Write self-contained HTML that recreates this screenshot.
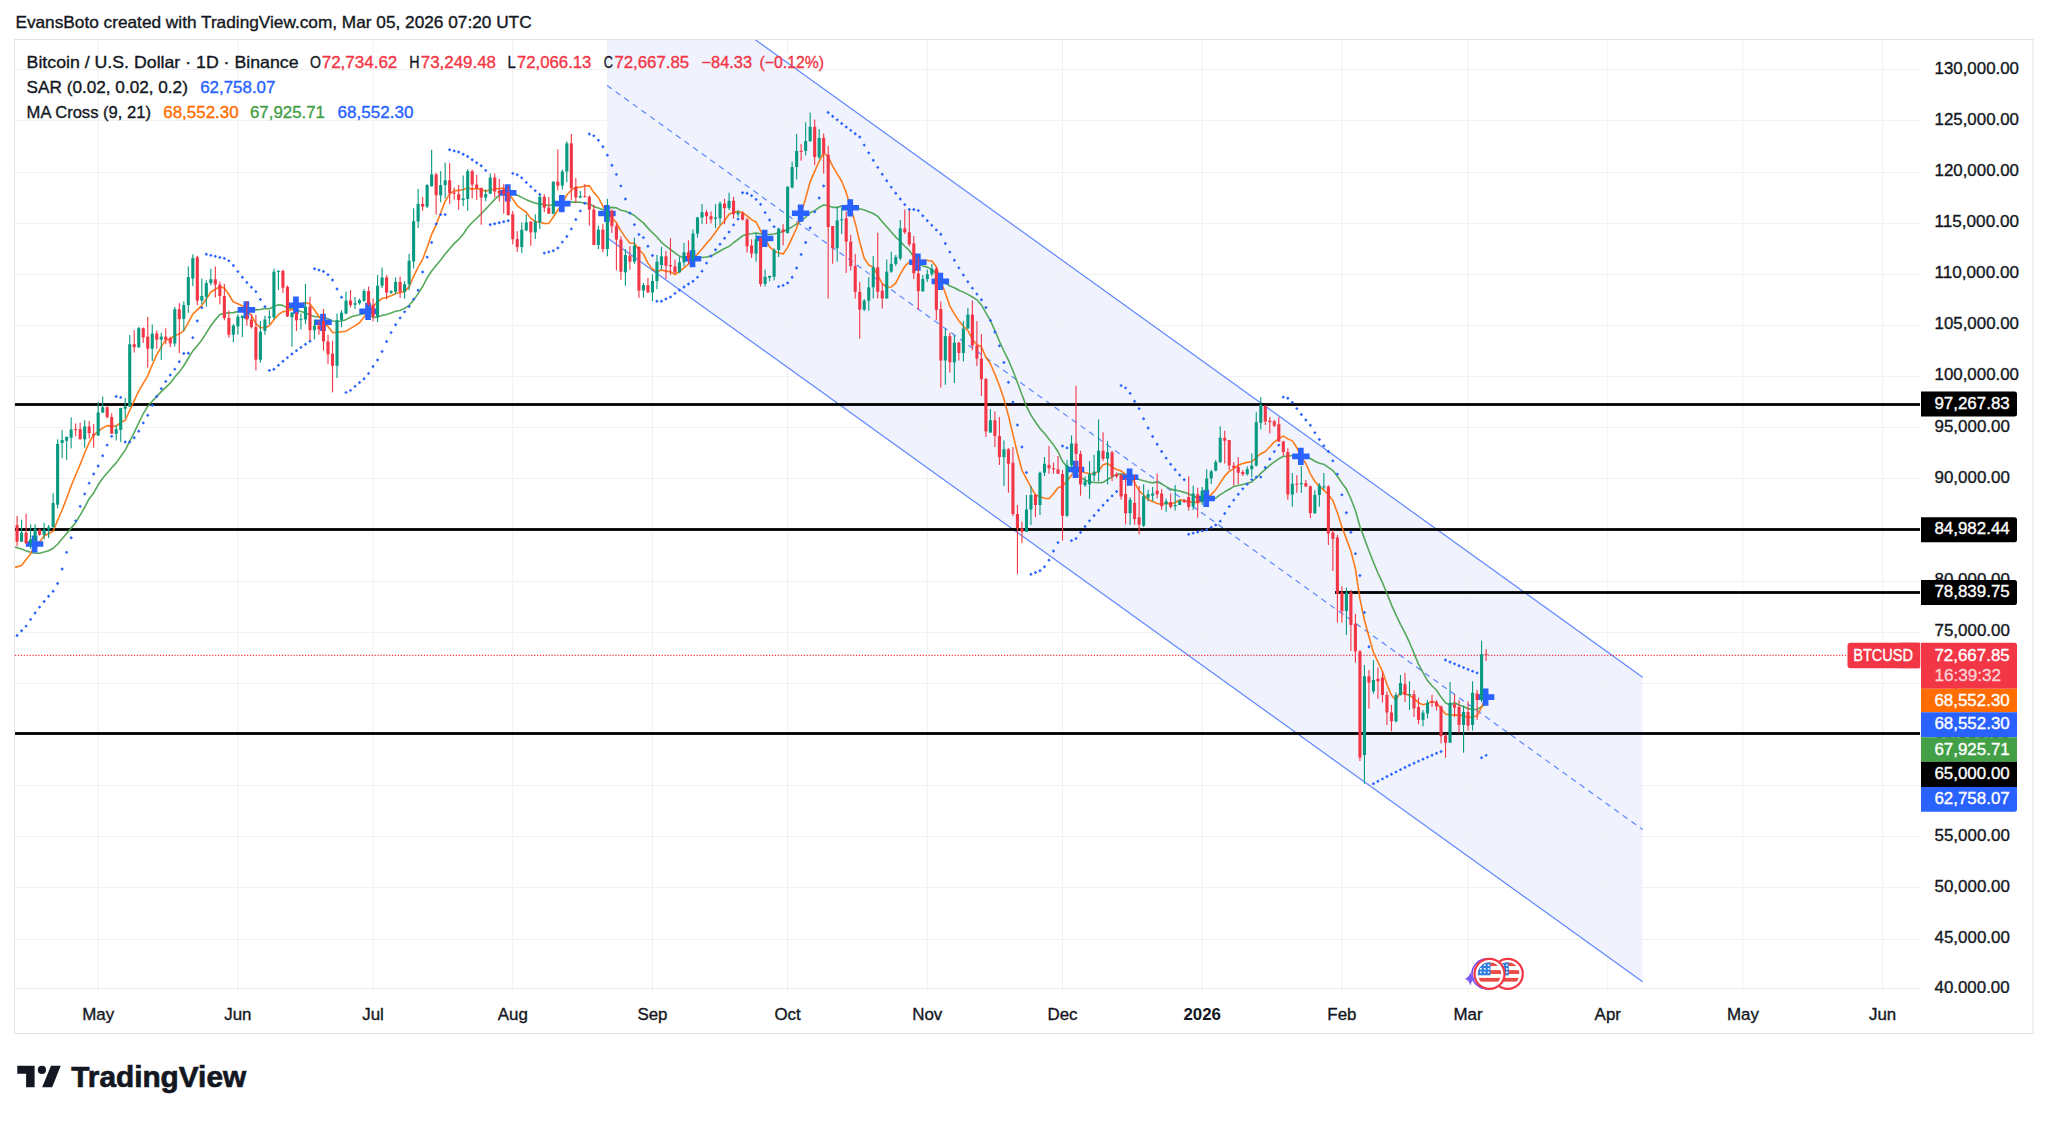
<!DOCTYPE html>
<html><head><meta charset="utf-8"><title>BTCUSD chart</title>
<style>html,body{margin:0;padding:0;background:#fff;width:2048px;height:1121px;overflow:hidden}svg{display:block}</style>
</head><body>
<svg width="2048" height="1121" viewBox="0 0 2048 1121" font-family='"Liberation Sans", sans-serif'>
<rect width="2048" height="1121" fill="#ffffff"/>
<defs><clipPath id="pane"><rect x="15" y="40" width="1905" height="948"/></clipPath></defs>
<text x="15.4" y="27.8" fill="#131722" font-size="16.5" font-weight="normal" textLength="516.2" lengthAdjust="spacingAndGlyphs" stroke="#131722" stroke-width="0.35">EvansBoto created with TradingView.com, Mar 05, 2026 07:20 UTC</text>
<rect x="14.5" y="39.5" width="2018.5" height="994" fill="none" stroke="#e3e3e3" stroke-width="1"/>
<line x1="15" y1="988.5" x2="1920" y2="988.5" stroke="#ececec" stroke-width="1"/>
<g clip-path="url(#pane)">
<polygon points="607,40 755.65,40 1642.6,677.27 1642.6,981.77 607,237.69" fill="#f0f3fe"/>
<line x1="98.18" y1="40" x2="98.18" y2="988" stroke="#f1f1f1" stroke-width="1"/>
<line x1="237.87" y1="40" x2="237.87" y2="988" stroke="#f1f1f1" stroke-width="1"/>
<line x1="373.06" y1="40" x2="373.06" y2="988" stroke="#f1f1f1" stroke-width="1"/>
<line x1="512.75" y1="40" x2="512.75" y2="988" stroke="#f1f1f1" stroke-width="1"/>
<line x1="652.44" y1="40" x2="652.44" y2="988" stroke="#f1f1f1" stroke-width="1"/>
<line x1="787.63" y1="40" x2="787.63" y2="988" stroke="#f1f1f1" stroke-width="1"/>
<line x1="927.32" y1="40" x2="927.32" y2="988" stroke="#f1f1f1" stroke-width="1"/>
<line x1="1062.51" y1="40" x2="1062.51" y2="988" stroke="#f1f1f1" stroke-width="1"/>
<line x1="1202.2" y1="40" x2="1202.2" y2="988" stroke="#f1f1f1" stroke-width="1"/>
<line x1="1341.89" y1="40" x2="1341.89" y2="988" stroke="#f1f1f1" stroke-width="1"/>
<line x1="1468.06" y1="40" x2="1468.06" y2="988" stroke="#f1f1f1" stroke-width="1"/>
<line x1="1607.76" y1="40" x2="1607.76" y2="988" stroke="#f1f1f1" stroke-width="1"/>
<line x1="1742.94" y1="40" x2="1742.94" y2="988" stroke="#f1f1f1" stroke-width="1"/>
<line x1="1882.64" y1="40" x2="1882.64" y2="988" stroke="#f1f1f1" stroke-width="1"/>
<line x1="15" y1="990.5" x2="1920" y2="990.5" stroke="#f1f1f1" stroke-width="1"/>
<line x1="15" y1="939.5" x2="1920" y2="939.5" stroke="#f1f1f1" stroke-width="1"/>
<line x1="15" y1="887.5" x2="1920" y2="887.5" stroke="#f1f1f1" stroke-width="1"/>
<line x1="15" y1="836.5" x2="1920" y2="836.5" stroke="#f1f1f1" stroke-width="1"/>
<line x1="15" y1="785.5" x2="1920" y2="785.5" stroke="#f1f1f1" stroke-width="1"/>
<line x1="15" y1="734.5" x2="1920" y2="734.5" stroke="#f1f1f1" stroke-width="1"/>
<line x1="15" y1="683.5" x2="1920" y2="683.5" stroke="#f1f1f1" stroke-width="1"/>
<line x1="15" y1="632.5" x2="1920" y2="632.5" stroke="#f1f1f1" stroke-width="1"/>
<line x1="15" y1="581.5" x2="1920" y2="581.5" stroke="#f1f1f1" stroke-width="1"/>
<line x1="15" y1="529.5" x2="1920" y2="529.5" stroke="#f1f1f1" stroke-width="1"/>
<line x1="15" y1="478.5" x2="1920" y2="478.5" stroke="#f1f1f1" stroke-width="1"/>
<line x1="15" y1="427.5" x2="1920" y2="427.5" stroke="#f1f1f1" stroke-width="1"/>
<line x1="15" y1="376.5" x2="1920" y2="376.5" stroke="#f1f1f1" stroke-width="1"/>
<line x1="15" y1="325.5" x2="1920" y2="325.5" stroke="#f1f1f1" stroke-width="1"/>
<line x1="15" y1="274.5" x2="1920" y2="274.5" stroke="#f1f1f1" stroke-width="1"/>
<line x1="15" y1="223.5" x2="1920" y2="223.5" stroke="#f1f1f1" stroke-width="1"/>
<line x1="15" y1="172.5" x2="1920" y2="172.5" stroke="#f1f1f1" stroke-width="1"/>
<line x1="15" y1="120.5" x2="1920" y2="120.5" stroke="#f1f1f1" stroke-width="1"/>
<line x1="15" y1="69.5" x2="1920" y2="69.5" stroke="#f1f1f1" stroke-width="1"/>
<line x1="607" y1="-66.81" x2="1642.6" y2="677.27" stroke="#2962ff" stroke-width="1.2" stroke-opacity="0.75"/>
<line x1="607" y1="237.69" x2="1642.6" y2="981.77" stroke="#2962ff" stroke-width="1.2" stroke-opacity="0.75"/>
<line x1="607" y1="85.44" x2="1642.6" y2="829.52" stroke="#2962ff" stroke-width="1.2" stroke-opacity="0.75" stroke-dasharray="5.8 4.8"/>
<rect x="15" y="403.1" width="1905" height="2.8" fill="#000"/>
<rect x="15" y="528.1" width="1905" height="2.8" fill="#000"/>
<rect x="1335" y="591.1" width="585" height="2.8" fill="#000"/>
<rect x="15" y="732.1" width="1905" height="2.8" fill="#000"/>
<line x1="15" y1="655.4" x2="1847" y2="655.4" stroke="#f23645" stroke-width="1.2" stroke-dasharray="1.2 1.7"/>
<polyline points="8.06,547.29 12.56,546.57 17.07,547.69 21.57,549.05 26.08,550.88 30.59,552.28 35.09,553.32 39.6,553.26 44.11,552.1 48.61,550.73 53.12,548.27 57.62,544.27 62.13,538.79 66.64,533.46 71.14,528.14 75.65,522.69 80.16,515.18 84.66,507.45 89.17,498.63 93.67,492.98 98.18,484.78 102.69,478.18 107.19,472.96 111.7,467.82 116.2,462.9 120.71,456.45 125.22,450.12 129.72,441.33 134.23,432.39 138.74,422.8 143.24,413.76 147.75,406.41 152.25,401.16 156.76,396.38 161.27,391.6 165.77,387.31 170.28,383.18 174.79,376.99 179.29,371.88 183.8,365.78 188.3,358.23 192.81,350.88 197.32,345.8 201.82,340.04 206.33,332.87 210.84,325.73 215.34,319.86 219.85,314.6 224.35,313.36 228.86,312.76 233.37,312.64 237.87,311.64 242.38,310.07 246.88,309.4 251.39,308.8 255.9,309.9 260.4,309.53 264.91,308.39 269.42,308.73 273.92,306.48 278.43,304.85 282.93,305.36 287.44,308.14 291.95,308.71 296.45,309.87 300.96,311.57 305.47,312.87 309.97,315.04 314.48,316.45 318.98,317 323.49,317.32 328,318.69 332.5,321.04 337.01,321.26 341.51,320.93 346.02,319.67 350.53,317.07 355.03,315.71 359.54,314.8 364.05,313.58 368.55,315.15 373.06,317.34 377.56,317.24 382.07,315.38 386.58,314.42 391.08,313.03 395.59,311.28 400.1,310.57 404.6,308.38 409.11,305.29 413.61,300.14 418.12,293.59 422.63,286.55 427.13,277.94 431.64,271 436.14,265.4 440.65,259.9 445.16,253.96 449.66,248.72 454.17,243.65 458.68,239.32 463.18,234.27 467.69,227.33 472.19,222.52 476.7,218.28 481.21,213.75 485.71,209.14 490.22,204.17 494.73,199.4 499.23,195.09 503.74,191.92 508.24,191.63 512.75,193.3 517.26,195.23 521.76,197.36 526.27,199.64 530.78,201.41 535.28,203.15 539.79,203.94 544.29,204.63 548.8,205.58 553.31,204.7 557.81,204.09 562.32,204.1 566.82,202.14 571.33,202.13 575.84,202.13 580.34,202.22 584.85,203.13 589.36,203.99 593.86,206.43 598.37,208.11 602.87,209.73 607.38,208.39 611.89,207.39 616.39,207.86 620.9,210.21 625.41,211.29 629.91,213.19 634.42,215.51 638.92,219.46 643.43,222.86 647.94,228.14 652.44,232.69 656.95,236.98 661.45,242.36 665.96,246.05 670.47,249.32 674.97,252.96 679.48,256.08 683.99,258.11 688.49,258.78 693,258.97 697.5,257.47 702.01,257.54 706.52,257.06 711.02,256.1 715.53,253.52 720.04,251.07 724.54,248.52 729.05,246.39 733.55,242.75 738.06,239.3 742.57,235.82 747.07,234.17 751.58,233.79 756.09,232.98 760.59,233.84 765.1,234.34 769.6,234.51 774.11,233.92 778.62,232.8 783.12,231.51 787.63,229.28 792.13,226.87 796.64,223.95 801.15,220.89 805.65,217.15 810.16,212.83 814.67,210.62 819.17,207.28 823.68,205.03 828.18,205.64 832.69,207.35 837.2,207.39 841.7,206.1 846.21,205.52 850.72,206.8 855.22,207.18 859.73,208.74 864.23,209.92 868.74,211.7 873.25,213.54 877.75,216.38 882.26,221.71 886.76,226.7 891.27,232.08 895.78,237.1 900.28,241.25 904.79,246.27 909.3,250.42 913.8,256.88 918.31,263.43 922.81,265.9 927.32,267.14 931.83,269.44 936.33,273.76 940.84,279.42 945.35,282.75 949.85,286.11 954.36,287.69 958.86,290.18 963.37,292.14 967.88,294.4 972.38,296.95 976.89,299.81 981.4,304.93 985.9,312.91 990.41,320.68 994.91,330.56 999.42,341.27 1003.93,351.03 1008.43,360.1 1012.94,370.7 1017.44,382.58 1021.95,394.84 1026.46,406.31 1030.96,415.12 1035.47,422 1039.98,428.51 1044.48,433.34 1048.99,439.32 1053.49,444.86 1058,451.77 1062.51,461.35 1067.01,467.04 1071.52,471.09 1076.03,474.64 1080.53,477.17 1085.04,480.07 1089.54,481.88 1094.05,482.57 1098.56,482.64 1103.06,482.4 1107.57,479.46 1112.08,476.98 1116.58,474.34 1121.09,473.72 1125.59,474.6 1130.1,474.34 1134.61,476.55 1139.11,479.44 1143.62,480.78 1148.12,481.97 1152.63,482.9 1157.14,481.88 1161.64,483.84 1166.15,486.6 1170.66,489.12 1175.16,490.1 1179.67,491.03 1184.17,492.36 1188.68,494.05 1193.19,496.09 1197.69,498.18 1202.2,500 1206.71,500.1 1211.21,499.87 1215.72,498.23 1220.22,494.63 1224.73,491.82 1229.24,489.28 1233.74,486.58 1238.25,485.46 1242.75,484.5 1247.26,483.35 1251.77,481.99 1256.27,477.98 1260.78,473.39 1265.29,469.31 1269.79,465.37 1274.3,461.8 1278.8,458.91 1283.31,456.3 1287.82,456.34 1292.32,455.44 1296.83,455.13 1301.34,455.35 1305.84,456.06 1310.35,458.49 1314.85,461.21 1319.36,463.33 1323.87,464.32 1328.37,467.45 1332.88,470.6 1337.38,476.29 1341.89,483.06 1346.4,489.1 1350.9,498.76 1355.41,510.49 1359.92,526.5 1364.42,538.6 1368.93,550.83 1373.43,562.19 1377.94,573.11 1382.45,582.66 1386.95,593.55 1391.46,604.84 1395.97,614.94 1400.47,624.3 1404.98,632.96 1409.48,642.45 1413.99,653.07 1418.5,664.19 1423,672.72 1427.51,680.53 1432.02,685.71 1436.52,690.24 1441.03,697.09 1445.53,702.69 1450.04,705.14 1454.55,702.77 1459.05,705.08 1463.56,706.49 1468.06,708.66 1472.57,709.2 1477.08,709.44 1481.58,706.67 1486.09,703.5" fill="none" stroke="#43a047" stroke-width="1.6" stroke-linejoin="round" stroke-opacity="0.9"/>
<polyline points="-9.97,557.14 -5.46,564.07 -0.96,564.01 3.55,570.32 8.06,569.29 12.56,566.81 17.07,566.86 21.57,565.51 26.08,559.54 30.59,554.05 35.09,544.09 39.6,541.97 44.11,535.85 48.61,533.79 53.12,531.17 57.62,520.31 62.13,510.02 66.64,498.21 71.14,486 75.65,475.04 80.16,464.42 84.66,452.96 89.17,442.5 93.67,435 98.18,431.51 102.69,427.87 107.19,425.64 111.7,426.11 116.2,426 120.71,422.51 125.22,420.29 129.72,410.4 134.23,400.59 138.74,391.22 143.24,383.47 147.75,375.88 152.25,364.76 156.76,354.8 161.27,346.88 165.77,339.46 170.28,339.37 174.79,335.16 179.29,334.14 183.8,330.56 188.3,322.59 192.81,314.2 197.32,309.87 201.82,305.36 206.33,299.08 210.84,291.96 215.34,289.21 219.85,286.64 224.35,288.08 228.86,294.49 233.37,301.99 237.87,303.76 242.38,305.94 246.88,309.99 251.39,315.3 255.9,323.64 260.4,327.61 264.91,327.78 269.42,325.76 273.92,319.77 278.43,314.7 282.93,311.59 287.44,311.26 291.95,309.66 296.45,305.28 300.96,303.84 305.47,302.41 309.97,303.93 314.48,309.92 318.98,316.42 323.49,322.4 328,326.61 332.5,332.51 337.01,332.51 341.51,331.83 346.02,331.17 350.53,328.38 355.03,325.89 359.54,322.64 364.05,317.03 368.55,311.51 373.06,306.07 377.56,302.22 382.07,298.3 386.58,297.41 391.08,295.86 395.59,293.49 400.1,292.56 404.6,291.8 409.11,286.91 413.61,276.29 418.12,267.2 422.63,259.33 427.13,247.39 431.64,234.42 436.14,224.8 440.65,212.94 445.16,201.4 449.66,193.9 454.17,190.84 458.68,190.42 463.18,189.52 467.69,187.98 472.19,189.11 476.7,188.34 481.21,189.72 485.71,191.27 490.22,189.53 494.73,189.3 499.23,188.58 503.74,188.11 508.24,192.98 512.75,199.03 517.26,205.56 521.76,209.13 526.27,212.27 530.78,218.36 535.28,221.7 539.79,222.07 544.29,223.54 548.8,223.4 553.31,217.01 557.81,210.18 562.32,203.71 566.82,194.93 571.33,190.02 575.84,187.33 580.34,187.24 584.85,186.04 589.36,185.58 593.86,192.62 598.37,197.51 602.87,206.12 607.38,213.61 611.89,217.83 616.39,222.51 620.9,230.91 625.41,237.38 629.91,243.18 634.42,243.24 638.92,250.01 643.43,254.02 647.94,263.1 652.44,269.2 656.95,271.66 661.45,269.94 665.96,271.13 670.47,271.64 674.97,274.62 679.48,271.49 683.99,267.84 688.49,264.12 693,258.84 697.5,253.93 702.01,249.03 706.52,243.53 711.02,238.33 715.53,232.23 720.04,225.7 724.54,220.79 729.05,214.32 733.55,212.17 738.06,211.61 742.57,212.43 747.07,215.79 751.58,219.58 756.09,222 760.59,230.93 765.1,238.57 769.6,246.91 774.11,250.89 778.62,252.68 783.12,254.07 787.63,247.42 792.13,237.8 796.64,227.98 801.15,213.3 805.65,198.22 810.16,181.66 814.67,171.33 819.17,161.26 823.68,152.52 828.18,157.02 832.69,166.06 837.2,173.78 841.7,181.28 846.21,192.44 850.72,207.92 855.22,222.89 859.73,241.97 864.23,258.32 868.74,265.01 873.25,267.12 877.75,275.06 882.26,283.86 886.76,287.2 891.27,286.96 895.78,283.11 900.28,274.09 904.79,266.48 909.3,261.7 913.8,262.38 918.31,262.31 922.81,260.14 927.32,260.43 931.83,260.97 936.33,266.82 940.84,281.5 945.35,293.04 949.85,306.16 954.36,313.86 958.86,320.72 963.37,326.23 967.88,330.71 972.38,339.24 976.89,344.66 981.4,346.73 985.9,357.32 990.41,363.77 994.91,374.12 999.42,385.69 1003.93,399.1 1008.43,415.68 1012.94,434.4 1017.44,453.27 1021.95,470.22 1026.46,478.9 1030.96,487.2 1035.47,494.88 1039.98,496.61 1044.48,498.22 1048.99,498.71 1053.49,493.74 1058,487.68 1062.51,485.89 1067.01,480.96 1071.52,475.23 1076.03,469.56 1080.53,470.86 1085.04,472.79 1089.54,473.43 1094.05,473.69 1098.56,471.12 1103.06,464.79 1107.57,463.37 1112.08,467.02 1116.58,469.52 1121.09,470.87 1125.59,474.43 1130.1,477.29 1134.61,482.56 1139.11,490.77 1143.62,494.94 1148.12,499.6 1152.63,501.5 1157.14,503.48 1161.64,504.57 1166.15,503.23 1170.66,504.04 1175.16,502.49 1179.67,499.82 1184.17,500.46 1188.68,501.88 1193.19,501.88 1197.69,502.82 1202.2,501.08 1206.71,498.54 1211.21,494.59 1215.72,489.82 1220.22,482.84 1224.73,476.03 1229.24,471.43 1233.74,468.58 1238.25,465.26 1242.75,463.43 1247.26,462.4 1251.77,461.76 1256.27,457.31 1260.78,453.67 1265.29,451.52 1269.79,446.69 1274.3,442.01 1278.8,438.52 1283.31,436.06 1287.82,438.87 1292.32,440.88 1296.83,447.78 1301.34,456.44 1305.84,463.67 1310.35,473.78 1314.85,481.47 1319.36,486.34 1323.87,490.17 1328.37,494.5 1332.88,500.62 1337.38,512.8 1341.89,527.06 1346.4,538.84 1350.9,551.28 1355.41,568.66 1359.92,598.9 1364.42,620 1368.93,636.56 1373.43,652.24 1377.94,661.97 1382.45,671.27 1386.95,684.6 1391.46,695.3 1395.97,700.16 1400.47,691.88 1404.98,693.94 1409.48,695.24 1413.99,698.4 1418.5,702.69 1423,704.66 1427.51,703.57 1432.02,701.5 1436.52,702.76 1441.03,708.68 1445.53,713.99 1450.04,714.93 1454.55,714.86 1459.05,715.41 1463.56,715.33 1468.06,717.88 1472.57,716.78 1477.08,716.08 1481.58,706.96 1486.09,697.19" fill="none" stroke="#ff6d00" stroke-width="1.6" stroke-linejoin="round" stroke-opacity="0.9"/>
<path d="M31.74 535.39h5.7v5.8h5.9v5.6h-5.9v5.8h-5.7v-5.8h-5.9v-5.6h5.9z" fill="#2962ff"/>
<path d="M243.53 301.29h5.7v5.8h5.9v5.6h-5.9v5.8h-5.7v-5.8h-5.9v-5.6h5.9z" fill="#2962ff"/>
<path d="M293.1 296.58h5.7v5.8h5.9v5.6h-5.9v5.8h-5.7v-5.8h-5.9v-5.6h5.9z" fill="#2962ff"/>
<path d="M320.14 313.7h5.7v5.8h5.9v5.6h-5.9v5.8h-5.7v-5.8h-5.9v-5.6h5.9z" fill="#2962ff"/>
<path d="M365.2 302.81h5.7v5.8h5.9v5.6h-5.9v5.8h-5.7v-5.8h-5.9v-5.6h5.9z" fill="#2962ff"/>
<path d="M504.89 184.28h5.7v5.8h5.9v5.6h-5.9v5.8h-5.7v-5.8h-5.9v-5.6h5.9z" fill="#2962ff"/>
<path d="M558.97 195.01h5.7v5.8h5.9v5.6h-5.9v5.8h-5.7v-5.8h-5.9v-5.6h5.9z" fill="#2962ff"/>
<path d="M604.03 204.91h5.7v5.8h5.9v5.6h-5.9v5.8h-5.7v-5.8h-5.9v-5.6h5.9z" fill="#2962ff"/>
<path d="M689.65 250.14h5.7v5.8h5.9v5.6h-5.9v5.8h-5.7v-5.8h-5.9v-5.6h5.9z" fill="#2962ff"/>
<path d="M761.75 229.87h5.7v5.8h5.9v5.6h-5.9v5.8h-5.7v-5.8h-5.9v-5.6h5.9z" fill="#2962ff"/>
<path d="M797.8 204.6h5.7v5.8h5.9v5.6h-5.9v5.8h-5.7v-5.8h-5.9v-5.6h5.9z" fill="#2962ff"/>
<path d="M847.37 199.22h5.7v5.8h5.9v5.6h-5.9v5.8h-5.7v-5.8h-5.9v-5.6h5.9z" fill="#2962ff"/>
<path d="M914.96 253.61h5.7v5.8h5.9v5.6h-5.9v5.8h-5.7v-5.8h-5.9v-5.6h5.9z" fill="#2962ff"/>
<path d="M937.49 272.8h5.7v5.8h5.9v5.6h-5.9v5.8h-5.7v-5.8h-5.9v-5.6h5.9z" fill="#2962ff"/>
<path d="M1072.68 460.86h5.7v5.8h5.9v5.6h-5.9v5.8h-5.7v-5.8h-5.9v-5.6h5.9z" fill="#2962ff"/>
<path d="M1126.75 468.59h5.7v5.8h5.9v5.6h-5.9v5.8h-5.7v-5.8h-5.9v-5.6h5.9z" fill="#2962ff"/>
<path d="M1203.36 489.84h5.7v5.8h5.9v5.6h-5.9v5.8h-5.7v-5.8h-5.9v-5.6h5.9z" fill="#2962ff"/>
<path d="M1297.99 447.74h5.7v5.8h5.9v5.6h-5.9v5.8h-5.7v-5.8h-5.9v-5.6h5.9z" fill="#2962ff"/>
<path d="M1482.74 688.49h5.7v5.8h5.9v5.6h-5.9v5.8h-5.7v-5.8h-5.9v-5.6h5.9z" fill="#2962ff"/>
<path d="M8.06 529.45l1.7 1.7l-1.7 1.7l-1.7 -1.7z" fill="#2962ff"/>
<path d="M12.56 636.17l1.7 1.7l-1.7 1.7l-1.7 -1.7z" fill="#2962ff"/>
<path d="M17.07 633.82l1.7 1.7l-1.7 1.7l-1.7 -1.7z" fill="#2962ff"/>
<path d="M21.57 629.04l1.7 1.7l-1.7 1.7l-1.7 -1.7z" fill="#2962ff"/>
<path d="M26.08 624.45l1.7 1.7l-1.7 1.7l-1.7 -1.7z" fill="#2962ff"/>
<path d="M30.59 617.7l1.7 1.7l-1.7 1.7l-1.7 -1.7z" fill="#2962ff"/>
<path d="M35.09 611.36l1.7 1.7l-1.7 1.7l-1.7 -1.7z" fill="#2962ff"/>
<path d="M39.6 605.4l1.7 1.7l-1.7 1.7l-1.7 -1.7z" fill="#2962ff"/>
<path d="M44.11 599.8l1.7 1.7l-1.7 1.7l-1.7 -1.7z" fill="#2962ff"/>
<path d="M48.61 594.53l1.7 1.7l-1.7 1.7l-1.7 -1.7z" fill="#2962ff"/>
<path d="M53.12 589.58l1.7 1.7l-1.7 1.7l-1.7 -1.7z" fill="#2962ff"/>
<path d="M57.62 581.73l1.7 1.7l-1.7 1.7l-1.7 -1.7z" fill="#2962ff"/>
<path d="M62.13 567.32l1.7 1.7l-1.7 1.7l-1.7 -1.7z" fill="#2962ff"/>
<path d="M66.64 550.66l1.7 1.7l-1.7 1.7l-1.7 -1.7z" fill="#2962ff"/>
<path d="M71.14 536l1.7 1.7l-1.7 1.7l-1.7 -1.7z" fill="#2962ff"/>
<path d="M75.65 519.14l1.7 1.7l-1.7 1.7l-1.7 -1.7z" fill="#2962ff"/>
<path d="M80.16 504.65l1.7 1.7l-1.7 1.7l-1.7 -1.7z" fill="#2962ff"/>
<path d="M84.66 492.18l1.7 1.7l-1.7 1.7l-1.7 -1.7z" fill="#2962ff"/>
<path d="M89.17 481.46l1.7 1.7l-1.7 1.7l-1.7 -1.7z" fill="#2962ff"/>
<path d="M93.67 472.24l1.7 1.7l-1.7 1.7l-1.7 -1.7z" fill="#2962ff"/>
<path d="M98.18 464.31l1.7 1.7l-1.7 1.7l-1.7 -1.7z" fill="#2962ff"/>
<path d="M102.69 454.08l1.7 1.7l-1.7 1.7l-1.7 -1.7z" fill="#2962ff"/>
<path d="M107.19 443.41l1.7 1.7l-1.7 1.7l-1.7 -1.7z" fill="#2962ff"/>
<path d="M111.7 434.66l1.7 1.7l-1.7 1.7l-1.7 -1.7z" fill="#2962ff"/>
<path d="M116.2 394.8l1.7 1.7l-1.7 1.7l-1.7 -1.7z" fill="#2962ff"/>
<path d="M120.71 395.68l1.7 1.7l-1.7 1.7l-1.7 -1.7z" fill="#2962ff"/>
<path d="M125.22 440.3l1.7 1.7l-1.7 1.7l-1.7 -1.7z" fill="#2962ff"/>
<path d="M129.72 440.3l1.7 1.7l-1.7 1.7l-1.7 -1.7z" fill="#2962ff"/>
<path d="M134.23 436.02l1.7 1.7l-1.7 1.7l-1.7 -1.7z" fill="#2962ff"/>
<path d="M138.74 429.59l1.7 1.7l-1.7 1.7l-1.7 -1.7z" fill="#2962ff"/>
<path d="M143.24 421.22l1.7 1.7l-1.7 1.7l-1.7 -1.7z" fill="#2962ff"/>
<path d="M147.75 413.52l1.7 1.7l-1.7 1.7l-1.7 -1.7z" fill="#2962ff"/>
<path d="M152.25 403.69l1.7 1.7l-1.7 1.7l-1.7 -1.7z" fill="#2962ff"/>
<path d="M156.76 394.84l1.7 1.7l-1.7 1.7l-1.7 -1.7z" fill="#2962ff"/>
<path d="M161.27 386.88l1.7 1.7l-1.7 1.7l-1.7 -1.7z" fill="#2962ff"/>
<path d="M165.77 379.71l1.7 1.7l-1.7 1.7l-1.7 -1.7z" fill="#2962ff"/>
<path d="M170.28 373.26l1.7 1.7l-1.7 1.7l-1.7 -1.7z" fill="#2962ff"/>
<path d="M174.79 367.45l1.7 1.7l-1.7 1.7l-1.7 -1.7z" fill="#2962ff"/>
<path d="M179.29 359.99l1.7 1.7l-1.7 1.7l-1.7 -1.7z" fill="#2962ff"/>
<path d="M183.8 351.81l1.7 1.7l-1.7 1.7l-1.7 -1.7z" fill="#2962ff"/>
<path d="M188.3 351.6l1.7 1.7l-1.7 1.7l-1.7 -1.7z" fill="#2962ff"/>
<path d="M192.81 335.96l1.7 1.7l-1.7 1.7l-1.7 -1.7z" fill="#2962ff"/>
<path d="M197.32 319.29l1.7 1.7l-1.7 1.7l-1.7 -1.7z" fill="#2962ff"/>
<path d="M201.82 305.95l1.7 1.7l-1.7 1.7l-1.7 -1.7z" fill="#2962ff"/>
<path d="M206.33 252.6l1.7 1.7l-1.7 1.7l-1.7 -1.7z" fill="#2962ff"/>
<path d="M210.84 253.65l1.7 1.7l-1.7 1.7l-1.7 -1.7z" fill="#2962ff"/>
<path d="M215.34 254.67l1.7 1.7l-1.7 1.7l-1.7 -1.7z" fill="#2962ff"/>
<path d="M219.85 255.68l1.7 1.7l-1.7 1.7l-1.7 -1.7z" fill="#2962ff"/>
<path d="M224.35 256.66l1.7 1.7l-1.7 1.7l-1.7 -1.7z" fill="#2962ff"/>
<path d="M228.86 259.14l1.7 1.7l-1.7 1.7l-1.7 -1.7z" fill="#2962ff"/>
<path d="M233.37 263.75l1.7 1.7l-1.7 1.7l-1.7 -1.7z" fill="#2962ff"/>
<path d="M237.87 269.9l1.7 1.7l-1.7 1.7l-1.7 -1.7z" fill="#2962ff"/>
<path d="M242.38 275.55l1.7 1.7l-1.7 1.7l-1.7 -1.7z" fill="#2962ff"/>
<path d="M246.88 280.76l1.7 1.7l-1.7 1.7l-1.7 -1.7z" fill="#2962ff"/>
<path d="M251.39 285.54l1.7 1.7l-1.7 1.7l-1.7 -1.7z" fill="#2962ff"/>
<path d="M255.9 289.95l1.7 1.7l-1.7 1.7l-1.7 -1.7z" fill="#2962ff"/>
<path d="M260.4 297.82l1.7 1.7l-1.7 1.7l-1.7 -1.7z" fill="#2962ff"/>
<path d="M264.91 304.91l1.7 1.7l-1.7 1.7l-1.7 -1.7z" fill="#2962ff"/>
<path d="M269.42 368.7l1.7 1.7l-1.7 1.7l-1.7 -1.7z" fill="#2962ff"/>
<path d="M273.92 367.5l1.7 1.7l-1.7 1.7l-1.7 -1.7z" fill="#2962ff"/>
<path d="M278.43 363.48l1.7 1.7l-1.7 1.7l-1.7 -1.7z" fill="#2962ff"/>
<path d="M282.93 359.62l1.7 1.7l-1.7 1.7l-1.7 -1.7z" fill="#2962ff"/>
<path d="M287.44 355.92l1.7 1.7l-1.7 1.7l-1.7 -1.7z" fill="#2962ff"/>
<path d="M291.95 352.36l1.7 1.7l-1.7 1.7l-1.7 -1.7z" fill="#2962ff"/>
<path d="M296.45 348.94l1.7 1.7l-1.7 1.7l-1.7 -1.7z" fill="#2962ff"/>
<path d="M300.96 345.67l1.7 1.7l-1.7 1.7l-1.7 -1.7z" fill="#2962ff"/>
<path d="M305.47 342.52l1.7 1.7l-1.7 1.7l-1.7 -1.7z" fill="#2962ff"/>
<path d="M309.97 339.5l1.7 1.7l-1.7 1.7l-1.7 -1.7z" fill="#2962ff"/>
<path d="M314.48 267l1.7 1.7l-1.7 1.7l-1.7 -1.7z" fill="#2962ff"/>
<path d="M318.98 268.41l1.7 1.7l-1.7 1.7l-1.7 -1.7z" fill="#2962ff"/>
<path d="M323.49 269.8l1.7 1.7l-1.7 1.7l-1.7 -1.7z" fill="#2962ff"/>
<path d="M328 272.96l1.7 1.7l-1.7 1.7l-1.7 -1.7z" fill="#2962ff"/>
<path d="M332.5 278.34l1.7 1.7l-1.7 1.7l-1.7 -1.7z" fill="#2962ff"/>
<path d="M337.01 287.33l1.7 1.7l-1.7 1.7l-1.7 -1.7z" fill="#2962ff"/>
<path d="M341.51 295.6l1.7 1.7l-1.7 1.7l-1.7 -1.7z" fill="#2962ff"/>
<path d="M346.02 390.7l1.7 1.7l-1.7 1.7l-1.7 -1.7z" fill="#2962ff"/>
<path d="M350.53 388.68l1.7 1.7l-1.7 1.7l-1.7 -1.7z" fill="#2962ff"/>
<path d="M355.03 384.67l1.7 1.7l-1.7 1.7l-1.7 -1.7z" fill="#2962ff"/>
<path d="M359.54 380.81l1.7 1.7l-1.7 1.7l-1.7 -1.7z" fill="#2962ff"/>
<path d="M364.05 377.11l1.7 1.7l-1.7 1.7l-1.7 -1.7z" fill="#2962ff"/>
<path d="M368.55 371.71l1.7 1.7l-1.7 1.7l-1.7 -1.7z" fill="#2962ff"/>
<path d="M373.06 364.76l1.7 1.7l-1.7 1.7l-1.7 -1.7z" fill="#2962ff"/>
<path d="M377.56 358.36l1.7 1.7l-1.7 1.7l-1.7 -1.7z" fill="#2962ff"/>
<path d="M382.07 349.87l1.7 1.7l-1.7 1.7l-1.7 -1.7z" fill="#2962ff"/>
<path d="M386.58 339.78l1.7 1.7l-1.7 1.7l-1.7 -1.7z" fill="#2962ff"/>
<path d="M391.08 330.9l1.7 1.7l-1.7 1.7l-1.7 -1.7z" fill="#2962ff"/>
<path d="M395.59 323.09l1.7 1.7l-1.7 1.7l-1.7 -1.7z" fill="#2962ff"/>
<path d="M400.1 316.21l1.7 1.7l-1.7 1.7l-1.7 -1.7z" fill="#2962ff"/>
<path d="M404.6 310.16l1.7 1.7l-1.7 1.7l-1.7 -1.7z" fill="#2962ff"/>
<path d="M409.11 304.84l1.7 1.7l-1.7 1.7l-1.7 -1.7z" fill="#2962ff"/>
<path d="M413.61 297.47l1.7 1.7l-1.7 1.7l-1.7 -1.7z" fill="#2962ff"/>
<path d="M418.12 288.6l1.7 1.7l-1.7 1.7l-1.7 -1.7z" fill="#2962ff"/>
<path d="M422.63 270.35l1.7 1.7l-1.7 1.7l-1.7 -1.7z" fill="#2962ff"/>
<path d="M427.13 255.38l1.7 1.7l-1.7 1.7l-1.7 -1.7z" fill="#2962ff"/>
<path d="M431.64 240.79l1.7 1.7l-1.7 1.7l-1.7 -1.7z" fill="#2962ff"/>
<path d="M436.14 222.25l1.7 1.7l-1.7 1.7l-1.7 -1.7z" fill="#2962ff"/>
<path d="M440.65 212.9l1.7 1.7l-1.7 1.7l-1.7 -1.7z" fill="#2962ff"/>
<path d="M445.16 212.9l1.7 1.7l-1.7 1.7l-1.7 -1.7z" fill="#2962ff"/>
<path d="M449.66 148.1l1.7 1.7l-1.7 1.7l-1.7 -1.7z" fill="#2962ff"/>
<path d="M454.17 149.18l1.7 1.7l-1.7 1.7l-1.7 -1.7z" fill="#2962ff"/>
<path d="M458.68 150.24l1.7 1.7l-1.7 1.7l-1.7 -1.7z" fill="#2962ff"/>
<path d="M463.18 152.56l1.7 1.7l-1.7 1.7l-1.7 -1.7z" fill="#2962ff"/>
<path d="M467.69 154.78l1.7 1.7l-1.7 1.7l-1.7 -1.7z" fill="#2962ff"/>
<path d="M472.19 158.04l1.7 1.7l-1.7 1.7l-1.7 -1.7z" fill="#2962ff"/>
<path d="M476.7 161.1l1.7 1.7l-1.7 1.7l-1.7 -1.7z" fill="#2962ff"/>
<path d="M481.21 163.98l1.7 1.7l-1.7 1.7l-1.7 -1.7z" fill="#2962ff"/>
<path d="M485.71 168.71l1.7 1.7l-1.7 1.7l-1.7 -1.7z" fill="#2962ff"/>
<path d="M490.22 223.1l1.7 1.7l-1.7 1.7l-1.7 -1.7z" fill="#2962ff"/>
<path d="M494.73 222.07l1.7 1.7l-1.7 1.7l-1.7 -1.7z" fill="#2962ff"/>
<path d="M499.23 221.06l1.7 1.7l-1.7 1.7l-1.7 -1.7z" fill="#2962ff"/>
<path d="M503.74 220.08l1.7 1.7l-1.7 1.7l-1.7 -1.7z" fill="#2962ff"/>
<path d="M508.24 219.11l1.7 1.7l-1.7 1.7l-1.7 -1.7z" fill="#2962ff"/>
<path d="M512.75 171.7l1.7 1.7l-1.7 1.7l-1.7 -1.7z" fill="#2962ff"/>
<path d="M517.26 173.12l1.7 1.7l-1.7 1.7l-1.7 -1.7z" fill="#2962ff"/>
<path d="M521.76 176.2l1.7 1.7l-1.7 1.7l-1.7 -1.7z" fill="#2962ff"/>
<path d="M526.27 180.71l1.7 1.7l-1.7 1.7l-1.7 -1.7z" fill="#2962ff"/>
<path d="M530.78 184.95l1.7 1.7l-1.7 1.7l-1.7 -1.7z" fill="#2962ff"/>
<path d="M535.28 188.94l1.7 1.7l-1.7 1.7l-1.7 -1.7z" fill="#2962ff"/>
<path d="M539.79 192.69l1.7 1.7l-1.7 1.7l-1.7 -1.7z" fill="#2962ff"/>
<path d="M544.29 251.4l1.7 1.7l-1.7 1.7l-1.7 -1.7z" fill="#2962ff"/>
<path d="M548.8 250.22l1.7 1.7l-1.7 1.7l-1.7 -1.7z" fill="#2962ff"/>
<path d="M553.31 249.07l1.7 1.7l-1.7 1.7l-1.7 -1.7z" fill="#2962ff"/>
<path d="M557.81 246.3l1.7 1.7l-1.7 1.7l-1.7 -1.7z" fill="#2962ff"/>
<path d="M562.32 240.39l1.7 1.7l-1.7 1.7l-1.7 -1.7z" fill="#2962ff"/>
<path d="M566.82 234.83l1.7 1.7l-1.7 1.7l-1.7 -1.7z" fill="#2962ff"/>
<path d="M571.33 227.22l1.7 1.7l-1.7 1.7l-1.7 -1.7z" fill="#2962ff"/>
<path d="M575.84 217.73l1.7 1.7l-1.7 1.7l-1.7 -1.7z" fill="#2962ff"/>
<path d="M580.34 209.18l1.7 1.7l-1.7 1.7l-1.7 -1.7z" fill="#2962ff"/>
<path d="M584.85 201.49l1.7 1.7l-1.7 1.7l-1.7 -1.7z" fill="#2962ff"/>
<path d="M589.36 132.3l1.7 1.7l-1.7 1.7l-1.7 -1.7z" fill="#2962ff"/>
<path d="M593.86 134.13l1.7 1.7l-1.7 1.7l-1.7 -1.7z" fill="#2962ff"/>
<path d="M598.37 138.5l1.7 1.7l-1.7 1.7l-1.7 -1.7z" fill="#2962ff"/>
<path d="M602.87 145.03l1.7 1.7l-1.7 1.7l-1.7 -1.7z" fill="#2962ff"/>
<path d="M607.38 153.47l1.7 1.7l-1.7 1.7l-1.7 -1.7z" fill="#2962ff"/>
<path d="M611.89 163.59l1.7 1.7l-1.7 1.7l-1.7 -1.7z" fill="#2962ff"/>
<path d="M616.39 172.69l1.7 1.7l-1.7 1.7l-1.7 -1.7z" fill="#2962ff"/>
<path d="M620.9 184.21l1.7 1.7l-1.7 1.7l-1.7 -1.7z" fill="#2962ff"/>
<path d="M625.41 197.35l1.7 1.7l-1.7 1.7l-1.7 -1.7z" fill="#2962ff"/>
<path d="M629.91 211.23l1.7 1.7l-1.7 1.7l-1.7 -1.7z" fill="#2962ff"/>
<path d="M634.42 222.89l1.7 1.7l-1.7 1.7l-1.7 -1.7z" fill="#2962ff"/>
<path d="M638.92 232.68l1.7 1.7l-1.7 1.7l-1.7 -1.7z" fill="#2962ff"/>
<path d="M643.43 235.9l1.7 1.7l-1.7 1.7l-1.7 -1.7z" fill="#2962ff"/>
<path d="M647.94 244.6l1.7 1.7l-1.7 1.7l-1.7 -1.7z" fill="#2962ff"/>
<path d="M652.44 253.87l1.7 1.7l-1.7 1.7l-1.7 -1.7z" fill="#2962ff"/>
<path d="M656.95 299.5l1.7 1.7l-1.7 1.7l-1.7 -1.7z" fill="#2962ff"/>
<path d="M661.45 299.5l1.7 1.7l-1.7 1.7l-1.7 -1.7z" fill="#2962ff"/>
<path d="M665.96 297.33l1.7 1.7l-1.7 1.7l-1.7 -1.7z" fill="#2962ff"/>
<path d="M670.47 295.24l1.7 1.7l-1.7 1.7l-1.7 -1.7z" fill="#2962ff"/>
<path d="M674.97 291.72l1.7 1.7l-1.7 1.7l-1.7 -1.7z" fill="#2962ff"/>
<path d="M679.48 288.41l1.7 1.7l-1.7 1.7l-1.7 -1.7z" fill="#2962ff"/>
<path d="M683.99 285.29l1.7 1.7l-1.7 1.7l-1.7 -1.7z" fill="#2962ff"/>
<path d="M688.49 282.36l1.7 1.7l-1.7 1.7l-1.7 -1.7z" fill="#2962ff"/>
<path d="M693 279.61l1.7 1.7l-1.7 1.7l-1.7 -1.7z" fill="#2962ff"/>
<path d="M697.5 275.47l1.7 1.7l-1.7 1.7l-1.7 -1.7z" fill="#2962ff"/>
<path d="M702.01 269.43l1.7 1.7l-1.7 1.7l-1.7 -1.7z" fill="#2962ff"/>
<path d="M706.52 261.39l1.7 1.7l-1.7 1.7l-1.7 -1.7z" fill="#2962ff"/>
<path d="M711.02 254.31l1.7 1.7l-1.7 1.7l-1.7 -1.7z" fill="#2962ff"/>
<path d="M715.53 248.08l1.7 1.7l-1.7 1.7l-1.7 -1.7z" fill="#2962ff"/>
<path d="M720.04 242.6l1.7 1.7l-1.7 1.7l-1.7 -1.7z" fill="#2962ff"/>
<path d="M724.54 236.59l1.7 1.7l-1.7 1.7l-1.7 -1.7z" fill="#2962ff"/>
<path d="M729.05 230.27l1.7 1.7l-1.7 1.7l-1.7 -1.7z" fill="#2962ff"/>
<path d="M733.55 223.2l1.7 1.7l-1.7 1.7l-1.7 -1.7z" fill="#2962ff"/>
<path d="M738.06 217.41l1.7 1.7l-1.7 1.7l-1.7 -1.7z" fill="#2962ff"/>
<path d="M742.57 191l1.7 1.7l-1.7 1.7l-1.7 -1.7z" fill="#2962ff"/>
<path d="M747.07 191.56l1.7 1.7l-1.7 1.7l-1.7 -1.7z" fill="#2962ff"/>
<path d="M751.58 193.93l1.7 1.7l-1.7 1.7l-1.7 -1.7z" fill="#2962ff"/>
<path d="M756.09 197.68l1.7 1.7l-1.7 1.7l-1.7 -1.7z" fill="#2962ff"/>
<path d="M760.59 202.65l1.7 1.7l-1.7 1.7l-1.7 -1.7z" fill="#2962ff"/>
<path d="M765.1 210.88l1.7 1.7l-1.7 1.7l-1.7 -1.7z" fill="#2962ff"/>
<path d="M769.6 218.28l1.7 1.7l-1.7 1.7l-1.7 -1.7z" fill="#2962ff"/>
<path d="M774.11 224.94l1.7 1.7l-1.7 1.7l-1.7 -1.7z" fill="#2962ff"/>
<path d="M778.62 284.9l1.7 1.7l-1.7 1.7l-1.7 -1.7z" fill="#2962ff"/>
<path d="M783.12 283.72l1.7 1.7l-1.7 1.7l-1.7 -1.7z" fill="#2962ff"/>
<path d="M787.63 281.27l1.7 1.7l-1.7 1.7l-1.7 -1.7z" fill="#2962ff"/>
<path d="M792.13 275.49l1.7 1.7l-1.7 1.7l-1.7 -1.7z" fill="#2962ff"/>
<path d="M796.64 266.24l1.7 1.7l-1.7 1.7l-1.7 -1.7z" fill="#2962ff"/>
<path d="M801.15 252.84l1.7 1.7l-1.7 1.7l-1.7 -1.7z" fill="#2962ff"/>
<path d="M805.65 240.77l1.7 1.7l-1.7 1.7l-1.7 -1.7z" fill="#2962ff"/>
<path d="M810.16 226.35l1.7 1.7l-1.7 1.7l-1.7 -1.7z" fill="#2962ff"/>
<path d="M814.67 210.17l1.7 1.7l-1.7 1.7l-1.7 -1.7z" fill="#2962ff"/>
<path d="M819.17 196.26l1.7 1.7l-1.7 1.7l-1.7 -1.7z" fill="#2962ff"/>
<path d="M823.68 184.3l1.7 1.7l-1.7 1.7l-1.7 -1.7z" fill="#2962ff"/>
<path d="M828.18 110.8l1.7 1.7l-1.7 1.7l-1.7 -1.7z" fill="#2962ff"/>
<path d="M832.69 114.52l1.7 1.7l-1.7 1.7l-1.7 -1.7z" fill="#2962ff"/>
<path d="M837.2 118.17l1.7 1.7l-1.7 1.7l-1.7 -1.7z" fill="#2962ff"/>
<path d="M841.7 121.74l1.7 1.7l-1.7 1.7l-1.7 -1.7z" fill="#2962ff"/>
<path d="M846.21 125.24l1.7 1.7l-1.7 1.7l-1.7 -1.7z" fill="#2962ff"/>
<path d="M850.72 128.67l1.7 1.7l-1.7 1.7l-1.7 -1.7z" fill="#2962ff"/>
<path d="M855.22 132.03l1.7 1.7l-1.7 1.7l-1.7 -1.7z" fill="#2962ff"/>
<path d="M859.73 135.33l1.7 1.7l-1.7 1.7l-1.7 -1.7z" fill="#2962ff"/>
<path d="M864.23 143.39l1.7 1.7l-1.7 1.7l-1.7 -1.7z" fill="#2962ff"/>
<path d="M868.74 151.13l1.7 1.7l-1.7 1.7l-1.7 -1.7z" fill="#2962ff"/>
<path d="M873.25 158.56l1.7 1.7l-1.7 1.7l-1.7 -1.7z" fill="#2962ff"/>
<path d="M877.75 165.7l1.7 1.7l-1.7 1.7l-1.7 -1.7z" fill="#2962ff"/>
<path d="M882.26 172.54l1.7 1.7l-1.7 1.7l-1.7 -1.7z" fill="#2962ff"/>
<path d="M886.76 179.12l1.7 1.7l-1.7 1.7l-1.7 -1.7z" fill="#2962ff"/>
<path d="M891.27 185.43l1.7 1.7l-1.7 1.7l-1.7 -1.7z" fill="#2962ff"/>
<path d="M895.78 191.49l1.7 1.7l-1.7 1.7l-1.7 -1.7z" fill="#2962ff"/>
<path d="M900.28 197.3l1.7 1.7l-1.7 1.7l-1.7 -1.7z" fill="#2962ff"/>
<path d="M904.79 202.89l1.7 1.7l-1.7 1.7l-1.7 -1.7z" fill="#2962ff"/>
<path d="M909.3 207.8l1.7 1.7l-1.7 1.7l-1.7 -1.7z" fill="#2962ff"/>
<path d="M913.8 207.8l1.7 1.7l-1.7 1.7l-1.7 -1.7z" fill="#2962ff"/>
<path d="M918.31 208.9l1.7 1.7l-1.7 1.7l-1.7 -1.7z" fill="#2962ff"/>
<path d="M922.81 214.02l1.7 1.7l-1.7 1.7l-1.7 -1.7z" fill="#2962ff"/>
<path d="M927.32 218.94l1.7 1.7l-1.7 1.7l-1.7 -1.7z" fill="#2962ff"/>
<path d="M931.83 223.65l1.7 1.7l-1.7 1.7l-1.7 -1.7z" fill="#2962ff"/>
<path d="M936.33 228.18l1.7 1.7l-1.7 1.7l-1.7 -1.7z" fill="#2962ff"/>
<path d="M940.84 232.53l1.7 1.7l-1.7 1.7l-1.7 -1.7z" fill="#2962ff"/>
<path d="M945.35 241.73l1.7 1.7l-1.7 1.7l-1.7 -1.7z" fill="#2962ff"/>
<path d="M949.85 250.38l1.7 1.7l-1.7 1.7l-1.7 -1.7z" fill="#2962ff"/>
<path d="M954.36 258.52l1.7 1.7l-1.7 1.7l-1.7 -1.7z" fill="#2962ff"/>
<path d="M958.86 266.16l1.7 1.7l-1.7 1.7l-1.7 -1.7z" fill="#2962ff"/>
<path d="M963.37 273.34l1.7 1.7l-1.7 1.7l-1.7 -1.7z" fill="#2962ff"/>
<path d="M967.88 280.1l1.7 1.7l-1.7 1.7l-1.7 -1.7z" fill="#2962ff"/>
<path d="M972.38 286.44l1.7 1.7l-1.7 1.7l-1.7 -1.7z" fill="#2962ff"/>
<path d="M976.89 292.41l1.7 1.7l-1.7 1.7l-1.7 -1.7z" fill="#2962ff"/>
<path d="M981.4 298.02l1.7 1.7l-1.7 1.7l-1.7 -1.7z" fill="#2962ff"/>
<path d="M985.9 305.73l1.7 1.7l-1.7 1.7l-1.7 -1.7z" fill="#2962ff"/>
<path d="M990.41 318.69l1.7 1.7l-1.7 1.7l-1.7 -1.7z" fill="#2962ff"/>
<path d="M994.91 330.35l1.7 1.7l-1.7 1.7l-1.7 -1.7z" fill="#2962ff"/>
<path d="M999.42 344.14l1.7 1.7l-1.7 1.7l-1.7 -1.7z" fill="#2962ff"/>
<path d="M1003.93 360.81l1.7 1.7l-1.7 1.7l-1.7 -1.7z" fill="#2962ff"/>
<path d="M1008.43 380.59l1.7 1.7l-1.7 1.7l-1.7 -1.7z" fill="#2962ff"/>
<path d="M1012.94 400.48l1.7 1.7l-1.7 1.7l-1.7 -1.7z" fill="#2962ff"/>
<path d="M1017.44 423.28l1.7 1.7l-1.7 1.7l-1.7 -1.7z" fill="#2962ff"/>
<path d="M1021.95 445.3l1.7 1.7l-1.7 1.7l-1.7 -1.7z" fill="#2962ff"/>
<path d="M1026.46 470.74l1.7 1.7l-1.7 1.7l-1.7 -1.7z" fill="#2962ff"/>
<path d="M1030.96 572.5l1.7 1.7l-1.7 1.7l-1.7 -1.7z" fill="#2962ff"/>
<path d="M1035.47 570.74l1.7 1.7l-1.7 1.7l-1.7 -1.7z" fill="#2962ff"/>
<path d="M1039.98 569.01l1.7 1.7l-1.7 1.7l-1.7 -1.7z" fill="#2962ff"/>
<path d="M1044.48 565.04l1.7 1.7l-1.7 1.7l-1.7 -1.7z" fill="#2962ff"/>
<path d="M1048.99 558.46l1.7 1.7l-1.7 1.7l-1.7 -1.7z" fill="#2962ff"/>
<path d="M1053.49 549.33l1.7 1.7l-1.7 1.7l-1.7 -1.7z" fill="#2962ff"/>
<path d="M1058 540.92l1.7 1.7l-1.7 1.7l-1.7 -1.7z" fill="#2962ff"/>
<path d="M1062.51 444.3l1.7 1.7l-1.7 1.7l-1.7 -1.7z" fill="#2962ff"/>
<path d="M1067.01 446.19l1.7 1.7l-1.7 1.7l-1.7 -1.7z" fill="#2962ff"/>
<path d="M1071.52 538.9l1.7 1.7l-1.7 1.7l-1.7 -1.7z" fill="#2962ff"/>
<path d="M1076.03 536.8l1.7 1.7l-1.7 1.7l-1.7 -1.7z" fill="#2962ff"/>
<path d="M1080.53 530.68l1.7 1.7l-1.7 1.7l-1.7 -1.7z" fill="#2962ff"/>
<path d="M1085.04 524.81l1.7 1.7l-1.7 1.7l-1.7 -1.7z" fill="#2962ff"/>
<path d="M1089.54 519.17l1.7 1.7l-1.7 1.7l-1.7 -1.7z" fill="#2962ff"/>
<path d="M1094.05 513.76l1.7 1.7l-1.7 1.7l-1.7 -1.7z" fill="#2962ff"/>
<path d="M1098.56 508.57l1.7 1.7l-1.7 1.7l-1.7 -1.7z" fill="#2962ff"/>
<path d="M1103.06 503.58l1.7 1.7l-1.7 1.7l-1.7 -1.7z" fill="#2962ff"/>
<path d="M1107.57 498.79l1.7 1.7l-1.7 1.7l-1.7 -1.7z" fill="#2962ff"/>
<path d="M1112.08 494.2l1.7 1.7l-1.7 1.7l-1.7 -1.7z" fill="#2962ff"/>
<path d="M1116.58 489.79l1.7 1.7l-1.7 1.7l-1.7 -1.7z" fill="#2962ff"/>
<path d="M1121.09 383.9l1.7 1.7l-1.7 1.7l-1.7 -1.7z" fill="#2962ff"/>
<path d="M1125.59 386.18l1.7 1.7l-1.7 1.7l-1.7 -1.7z" fill="#2962ff"/>
<path d="M1130.1 391.64l1.7 1.7l-1.7 1.7l-1.7 -1.7z" fill="#2962ff"/>
<path d="M1134.61 399.54l1.7 1.7l-1.7 1.7l-1.7 -1.7z" fill="#2962ff"/>
<path d="M1139.11 406.96l1.7 1.7l-1.7 1.7l-1.7 -1.7z" fill="#2962ff"/>
<path d="M1143.62 417.01l1.7 1.7l-1.7 1.7l-1.7 -1.7z" fill="#2962ff"/>
<path d="M1148.12 426.26l1.7 1.7l-1.7 1.7l-1.7 -1.7z" fill="#2962ff"/>
<path d="M1152.63 434.77l1.7 1.7l-1.7 1.7l-1.7 -1.7z" fill="#2962ff"/>
<path d="M1157.14 442.6l1.7 1.7l-1.7 1.7l-1.7 -1.7z" fill="#2962ff"/>
<path d="M1161.64 449.8l1.7 1.7l-1.7 1.7l-1.7 -1.7z" fill="#2962ff"/>
<path d="M1166.15 456.42l1.7 1.7l-1.7 1.7l-1.7 -1.7z" fill="#2962ff"/>
<path d="M1170.66 462.51l1.7 1.7l-1.7 1.7l-1.7 -1.7z" fill="#2962ff"/>
<path d="M1175.16 468.12l1.7 1.7l-1.7 1.7l-1.7 -1.7z" fill="#2962ff"/>
<path d="M1179.67 473.28l1.7 1.7l-1.7 1.7l-1.7 -1.7z" fill="#2962ff"/>
<path d="M1184.17 478.03l1.7 1.7l-1.7 1.7l-1.7 -1.7z" fill="#2962ff"/>
<path d="M1188.68 532.6l1.7 1.7l-1.7 1.7l-1.7 -1.7z" fill="#2962ff"/>
<path d="M1193.19 531.44l1.7 1.7l-1.7 1.7l-1.7 -1.7z" fill="#2962ff"/>
<path d="M1197.69 530.3l1.7 1.7l-1.7 1.7l-1.7 -1.7z" fill="#2962ff"/>
<path d="M1202.2 529.19l1.7 1.7l-1.7 1.7l-1.7 -1.7z" fill="#2962ff"/>
<path d="M1206.71 528.1l1.7 1.7l-1.7 1.7l-1.7 -1.7z" fill="#2962ff"/>
<path d="M1211.21 525.67l1.7 1.7l-1.7 1.7l-1.7 -1.7z" fill="#2962ff"/>
<path d="M1215.72 523.35l1.7 1.7l-1.7 1.7l-1.7 -1.7z" fill="#2962ff"/>
<path d="M1220.22 519.44l1.7 1.7l-1.7 1.7l-1.7 -1.7z" fill="#2962ff"/>
<path d="M1224.73 511.86l1.7 1.7l-1.7 1.7l-1.7 -1.7z" fill="#2962ff"/>
<path d="M1229.24 504.89l1.7 1.7l-1.7 1.7l-1.7 -1.7z" fill="#2962ff"/>
<path d="M1233.74 498.47l1.7 1.7l-1.7 1.7l-1.7 -1.7z" fill="#2962ff"/>
<path d="M1238.25 492.57l1.7 1.7l-1.7 1.7l-1.7 -1.7z" fill="#2962ff"/>
<path d="M1242.75 487.14l1.7 1.7l-1.7 1.7l-1.7 -1.7z" fill="#2962ff"/>
<path d="M1247.26 482.5l1.7 1.7l-1.7 1.7l-1.7 -1.7z" fill="#2962ff"/>
<path d="M1251.77 477.88l1.7 1.7l-1.7 1.7l-1.7 -1.7z" fill="#2962ff"/>
<path d="M1256.27 475.4l1.7 1.7l-1.7 1.7l-1.7 -1.7z" fill="#2962ff"/>
<path d="M1260.78 475.4l1.7 1.7l-1.7 1.7l-1.7 -1.7z" fill="#2962ff"/>
<path d="M1265.29 465.8l1.7 1.7l-1.7 1.7l-1.7 -1.7z" fill="#2962ff"/>
<path d="M1269.79 457.35l1.7 1.7l-1.7 1.7l-1.7 -1.7z" fill="#2962ff"/>
<path d="M1274.3 449.92l1.7 1.7l-1.7 1.7l-1.7 -1.7z" fill="#2962ff"/>
<path d="M1278.8 443.38l1.7 1.7l-1.7 1.7l-1.7 -1.7z" fill="#2962ff"/>
<path d="M1283.31 395.4l1.7 1.7l-1.7 1.7l-1.7 -1.7z" fill="#2962ff"/>
<path d="M1287.82 396.57l1.7 1.7l-1.7 1.7l-1.7 -1.7z" fill="#2962ff"/>
<path d="M1292.32 400.63l1.7 1.7l-1.7 1.7l-1.7 -1.7z" fill="#2962ff"/>
<path d="M1296.83 406.89l1.7 1.7l-1.7 1.7l-1.7 -1.7z" fill="#2962ff"/>
<path d="M1301.34 412.78l1.7 1.7l-1.7 1.7l-1.7 -1.7z" fill="#2962ff"/>
<path d="M1305.84 418.31l1.7 1.7l-1.7 1.7l-1.7 -1.7z" fill="#2962ff"/>
<path d="M1310.35 423.51l1.7 1.7l-1.7 1.7l-1.7 -1.7z" fill="#2962ff"/>
<path d="M1314.85 430.93l1.7 1.7l-1.7 1.7l-1.7 -1.7z" fill="#2962ff"/>
<path d="M1319.36 437.76l1.7 1.7l-1.7 1.7l-1.7 -1.7z" fill="#2962ff"/>
<path d="M1323.87 444.05l1.7 1.7l-1.7 1.7l-1.7 -1.7z" fill="#2962ff"/>
<path d="M1328.37 449.83l1.7 1.7l-1.7 1.7l-1.7 -1.7z" fill="#2962ff"/>
<path d="M1332.88 459.17l1.7 1.7l-1.7 1.7l-1.7 -1.7z" fill="#2962ff"/>
<path d="M1337.38 472.39l1.7 1.7l-1.7 1.7l-1.7 -1.7z" fill="#2962ff"/>
<path d="M1341.89 493.17l1.7 1.7l-1.7 1.7l-1.7 -1.7z" fill="#2962ff"/>
<path d="M1346.4 511.04l1.7 1.7l-1.7 1.7l-1.7 -1.7z" fill="#2962ff"/>
<path d="M1350.9 530.6l1.7 1.7l-1.7 1.7l-1.7 -1.7z" fill="#2962ff"/>
<path d="M1355.41 551.96l1.7 1.7l-1.7 1.7l-1.7 -1.7z" fill="#2962ff"/>
<path d="M1359.92 573.73l1.7 1.7l-1.7 1.7l-1.7 -1.7z" fill="#2962ff"/>
<path d="M1364.42 610.85l1.7 1.7l-1.7 1.7l-1.7 -1.7z" fill="#2962ff"/>
<path d="M1368.93 645.1l1.7 1.7l-1.7 1.7l-1.7 -1.7z" fill="#2962ff"/>
<path d="M1373.43 782.1l1.7 1.7l-1.7 1.7l-1.7 -1.7z" fill="#2962ff"/>
<path d="M1377.94 779.62l1.7 1.7l-1.7 1.7l-1.7 -1.7z" fill="#2962ff"/>
<path d="M1382.45 777.2l1.7 1.7l-1.7 1.7l-1.7 -1.7z" fill="#2962ff"/>
<path d="M1386.95 774.82l1.7 1.7l-1.7 1.7l-1.7 -1.7z" fill="#2962ff"/>
<path d="M1391.46 772.49l1.7 1.7l-1.7 1.7l-1.7 -1.7z" fill="#2962ff"/>
<path d="M1395.97 770.21l1.7 1.7l-1.7 1.7l-1.7 -1.7z" fill="#2962ff"/>
<path d="M1400.47 767.97l1.7 1.7l-1.7 1.7l-1.7 -1.7z" fill="#2962ff"/>
<path d="M1404.98 765.77l1.7 1.7l-1.7 1.7l-1.7 -1.7z" fill="#2962ff"/>
<path d="M1409.48 763.62l1.7 1.7l-1.7 1.7l-1.7 -1.7z" fill="#2962ff"/>
<path d="M1413.99 761.52l1.7 1.7l-1.7 1.7l-1.7 -1.7z" fill="#2962ff"/>
<path d="M1418.5 759.45l1.7 1.7l-1.7 1.7l-1.7 -1.7z" fill="#2962ff"/>
<path d="M1423 757.43l1.7 1.7l-1.7 1.7l-1.7 -1.7z" fill="#2962ff"/>
<path d="M1427.51 755.45l1.7 1.7l-1.7 1.7l-1.7 -1.7z" fill="#2962ff"/>
<path d="M1432.02 753.5l1.7 1.7l-1.7 1.7l-1.7 -1.7z" fill="#2962ff"/>
<path d="M1436.52 751.6l1.7 1.7l-1.7 1.7l-1.7 -1.7z" fill="#2962ff"/>
<path d="M1441.03 749.73l1.7 1.7l-1.7 1.7l-1.7 -1.7z" fill="#2962ff"/>
<path d="M1445.53 658.3l1.7 1.7l-1.7 1.7l-1.7 -1.7z" fill="#2962ff"/>
<path d="M1450.04 660.25l1.7 1.7l-1.7 1.7l-1.7 -1.7z" fill="#2962ff"/>
<path d="M1454.55 662.17l1.7 1.7l-1.7 1.7l-1.7 -1.7z" fill="#2962ff"/>
<path d="M1459.05 664.05l1.7 1.7l-1.7 1.7l-1.7 -1.7z" fill="#2962ff"/>
<path d="M1463.56 665.88l1.7 1.7l-1.7 1.7l-1.7 -1.7z" fill="#2962ff"/>
<path d="M1468.06 667.69l1.7 1.7l-1.7 1.7l-1.7 -1.7z" fill="#2962ff"/>
<path d="M1472.57 669.45l1.7 1.7l-1.7 1.7l-1.7 -1.7z" fill="#2962ff"/>
<path d="M1477.08 671.18l1.7 1.7l-1.7 1.7l-1.7 -1.7z" fill="#2962ff"/>
<path d="M1481.58 756l1.7 1.7l-1.7 1.7l-1.7 -1.7z" fill="#2962ff"/>
<path d="M1486.09 753.66l1.7 1.7l-1.7 1.7l-1.7 -1.7z" fill="#2962ff"/>
<rect x="7.51" y="536.63" width="1.1" height="55.22" fill="#089981"/>
<rect x="6.51" y="545.83" width="3.1" height="38.86" fill="#089981"/>
<rect x="12.01" y="520.72" width="1.1" height="31.57" fill="#089981"/>
<rect x="11.01" y="526.54" width="3.1" height="19.26" fill="#089981"/>
<rect x="16.52" y="516" width="1.1" height="30.3" fill="#f23645"/>
<rect x="15.52" y="525.1" width="3.1" height="16.6" fill="#f23645"/>
<rect x="21.02" y="519.7" width="1.1" height="22" fill="#089981"/>
<rect x="20.02" y="532.6" width="3.1" height="9.1" fill="#089981"/>
<rect x="25.53" y="513.7" width="1.1" height="30.3" fill="#f23645"/>
<rect x="24.53" y="532.6" width="3.1" height="10.7" fill="#f23645"/>
<rect x="30.04" y="524.36" width="1.1" height="24.43" fill="#089981"/>
<rect x="29.04" y="539.36" width="3.1" height="3.73" fill="#089981"/>
<rect x="34.54" y="524.3" width="1.1" height="16.7" fill="#089981"/>
<rect x="33.54" y="528.8" width="3.1" height="11.4" fill="#089981"/>
<rect x="39.05" y="528.8" width="1.1" height="6.9" fill="#f23645"/>
<rect x="38.05" y="529.6" width="3.1" height="5.3" fill="#f23645"/>
<rect x="43.56" y="522.8" width="1.1" height="16.7" fill="#089981"/>
<rect x="42.56" y="529.6" width="3.1" height="5.3" fill="#089981"/>
<rect x="48.06" y="525" width="1.1" height="13" fill="#089981"/>
<rect x="47.06" y="527.3" width="3.1" height="2.3" fill="#089981"/>
<rect x="52.57" y="493.2" width="1.1" height="34.1" fill="#089981"/>
<rect x="51.57" y="503" width="3.1" height="24.3" fill="#089981"/>
<rect x="57.07" y="439.3" width="1.1" height="69.1" fill="#089981"/>
<rect x="56.07" y="443.9" width="3.1" height="60.7" fill="#089981"/>
<rect x="61.58" y="430.2" width="1.1" height="28.1" fill="#089981"/>
<rect x="60.58" y="440" width="3.1" height="3.1" fill="#089981"/>
<rect x="66.09" y="436.3" width="1.1" height="23.5" fill="#089981"/>
<rect x="65.09" y="437" width="3.1" height="3.8" fill="#089981"/>
<rect x="70.59" y="417.3" width="1.1" height="31.1" fill="#089981"/>
<rect x="69.59" y="429.5" width="3.1" height="8.3" fill="#089981"/>
<rect x="75.1" y="423.4" width="1.1" height="12.9" fill="#f23645"/>
<rect x="74.1" y="429.2" width="3.1" height="1" fill="#f23645"/>
<rect x="79.61" y="422.6" width="1.1" height="16.7" fill="#f23645"/>
<rect x="78.61" y="429.2" width="3.1" height="10.1" fill="#f23645"/>
<rect x="84.11" y="420.3" width="1.1" height="27.4" fill="#089981"/>
<rect x="83.11" y="426.4" width="3.1" height="12.9" fill="#089981"/>
<rect x="88.62" y="421.1" width="1.1" height="17.5" fill="#f23645"/>
<rect x="87.62" y="426.4" width="3.1" height="6.8" fill="#f23645"/>
<rect x="93.12" y="424.1" width="1.1" height="23.6" fill="#f23645"/>
<rect x="92.12" y="434" width="3.1" height="1.5" fill="#f23645"/>
<rect x="97.63" y="402.1" width="1.1" height="33.9" fill="#089981"/>
<rect x="96.63" y="412.5" width="3.1" height="23" fill="#089981"/>
<rect x="102.14" y="396.5" width="1.1" height="16.7" fill="#089981"/>
<rect x="101.14" y="407.2" width="3.1" height="5.3" fill="#089981"/>
<rect x="106.64" y="406.4" width="1.1" height="12.1" fill="#f23645"/>
<rect x="105.64" y="407.2" width="3.1" height="9.8" fill="#f23645"/>
<rect x="111.15" y="413.2" width="1.1" height="20.5" fill="#f23645"/>
<rect x="110.15" y="417" width="3.1" height="16.7" fill="#f23645"/>
<rect x="115.65" y="425.4" width="1.1" height="15.1" fill="#089981"/>
<rect x="114.65" y="429.2" width="3.1" height="4.5" fill="#089981"/>
<rect x="120.16" y="407.9" width="1.1" height="34.1" fill="#089981"/>
<rect x="119.16" y="407.9" width="3.1" height="22.1" fill="#089981"/>
<rect x="124.67" y="398" width="1.1" height="20.5" fill="#089981"/>
<rect x="123.67" y="406.4" width="3.1" height="2.3" fill="#089981"/>
<rect x="129.17" y="335" width="1.1" height="72" fill="#089981"/>
<rect x="128.17" y="344.2" width="3.1" height="62.2" fill="#089981"/>
<rect x="133.68" y="330.5" width="1.1" height="22" fill="#f23645"/>
<rect x="132.68" y="344.2" width="3.1" height="3" fill="#f23645"/>
<rect x="138.19" y="326.7" width="1.1" height="21.3" fill="#089981"/>
<rect x="137.19" y="328.2" width="3.1" height="19" fill="#089981"/>
<rect x="142.69" y="327.5" width="1.1" height="15.5" fill="#f23645"/>
<rect x="141.69" y="328.2" width="3.1" height="9.2" fill="#f23645"/>
<rect x="147.2" y="316.9" width="1.1" height="50.8" fill="#f23645"/>
<rect x="146.2" y="336.6" width="3.1" height="12.1" fill="#f23645"/>
<rect x="151.7" y="324.5" width="1.1" height="36.4" fill="#089981"/>
<rect x="150.7" y="333.6" width="3.1" height="15.1" fill="#089981"/>
<rect x="156.21" y="330.5" width="1.1" height="18.2" fill="#f23645"/>
<rect x="155.21" y="333.6" width="3.1" height="6" fill="#f23645"/>
<rect x="160.72" y="332.8" width="1.1" height="27.3" fill="#089981"/>
<rect x="159.72" y="336.6" width="3.1" height="3" fill="#089981"/>
<rect x="165.22" y="328.2" width="1.1" height="16" fill="#f23645"/>
<rect x="164.22" y="336.6" width="3.1" height="3" fill="#f23645"/>
<rect x="169.73" y="336.6" width="1.1" height="10.6" fill="#f23645"/>
<rect x="168.73" y="338.1" width="3.1" height="5.3" fill="#f23645"/>
<rect x="174.24" y="307" width="1.1" height="39.5" fill="#089981"/>
<rect x="173.24" y="309.3" width="3.1" height="34.1" fill="#089981"/>
<rect x="178.74" y="303.2" width="1.1" height="50.1" fill="#f23645"/>
<rect x="177.74" y="309.3" width="3.1" height="9.8" fill="#f23645"/>
<rect x="183.25" y="301.3" width="1.1" height="29.6" fill="#089981"/>
<rect x="182.25" y="305.1" width="3.1" height="13.7" fill="#089981"/>
<rect x="187.75" y="266.4" width="1.1" height="46.3" fill="#089981"/>
<rect x="186.75" y="277" width="3.1" height="28.1" fill="#089981"/>
<rect x="192.26" y="254.3" width="1.1" height="31.8" fill="#089981"/>
<rect x="191.26" y="258.1" width="3.1" height="20.5" fill="#089981"/>
<rect x="196.77" y="255.8" width="1.1" height="49.3" fill="#f23645"/>
<rect x="195.77" y="257.3" width="3.1" height="43.3" fill="#f23645"/>
<rect x="201.27" y="278.6" width="1.1" height="25.8" fill="#089981"/>
<rect x="200.27" y="296" width="3.1" height="4.6" fill="#089981"/>
<rect x="205.78" y="280.1" width="1.1" height="26.5" fill="#089981"/>
<rect x="204.78" y="283.1" width="3.1" height="13.7" fill="#089981"/>
<rect x="210.28" y="268.7" width="1.1" height="16.7" fill="#089981"/>
<rect x="209.28" y="279.3" width="3.1" height="3.8" fill="#089981"/>
<rect x="214.79" y="266.4" width="1.1" height="31.1" fill="#f23645"/>
<rect x="213.79" y="279.3" width="3.1" height="5.3" fill="#f23645"/>
<rect x="219.3" y="281.6" width="1.1" height="22.8" fill="#f23645"/>
<rect x="218.3" y="284.6" width="3.1" height="11.4" fill="#f23645"/>
<rect x="223.8" y="283.9" width="1.1" height="36.4" fill="#f23645"/>
<rect x="222.8" y="296" width="3.1" height="22" fill="#f23645"/>
<rect x="228.31" y="310.4" width="1.1" height="27.3" fill="#f23645"/>
<rect x="227.31" y="318" width="3.1" height="16.7" fill="#f23645"/>
<rect x="232.82" y="324.1" width="1.1" height="18.2" fill="#089981"/>
<rect x="231.82" y="325.6" width="3.1" height="9.1" fill="#089981"/>
<rect x="237.32" y="314.2" width="1.1" height="20.5" fill="#089981"/>
<rect x="236.32" y="316.5" width="3.1" height="9.9" fill="#089981"/>
<rect x="241.83" y="315.7" width="1.1" height="21.3" fill="#089981"/>
<rect x="240.83" y="315.7" width="3.1" height="2.3" fill="#089981"/>
<rect x="246.33" y="301.3" width="1.1" height="24.3" fill="#f23645"/>
<rect x="245.33" y="315.7" width="3.1" height="3.8" fill="#f23645"/>
<rect x="250.84" y="314.2" width="1.1" height="14.4" fill="#f23645"/>
<rect x="249.84" y="319.5" width="3.1" height="7.6" fill="#f23645"/>
<rect x="255.35" y="315" width="1.1" height="55.4" fill="#f23645"/>
<rect x="254.35" y="327.1" width="3.1" height="32.6" fill="#f23645"/>
<rect x="259.85" y="321" width="1.1" height="41.8" fill="#089981"/>
<rect x="258.85" y="331.7" width="3.1" height="28" fill="#089981"/>
<rect x="264.36" y="315.7" width="1.1" height="19" fill="#089981"/>
<rect x="263.36" y="319.5" width="3.1" height="11.4" fill="#089981"/>
<rect x="268.87" y="310.4" width="1.1" height="13.7" fill="#089981"/>
<rect x="267.87" y="316.5" width="3.1" height="1.5" fill="#089981"/>
<rect x="273.37" y="268.7" width="1.1" height="50.8" fill="#089981"/>
<rect x="272.37" y="271.7" width="3.1" height="45.6" fill="#089981"/>
<rect x="277.88" y="270.2" width="1.1" height="19.8" fill="#089981"/>
<rect x="276.88" y="270.9" width="3.1" height="1" fill="#089981"/>
<rect x="282.38" y="269.5" width="1.1" height="23.5" fill="#f23645"/>
<rect x="281.38" y="271" width="3.1" height="16.7" fill="#f23645"/>
<rect x="286.89" y="285.4" width="1.1" height="31.6" fill="#f23645"/>
<rect x="285.89" y="286.9" width="3.1" height="29.6" fill="#f23645"/>
<rect x="291.4" y="312" width="1.1" height="34.8" fill="#089981"/>
<rect x="290.4" y="312.7" width="3.1" height="4.6" fill="#089981"/>
<rect x="295.9" y="312" width="1.1" height="19" fill="#f23645"/>
<rect x="294.9" y="312.7" width="3.1" height="7.6" fill="#f23645"/>
<rect x="300.41" y="313.5" width="1.1" height="15.9" fill="#089981"/>
<rect x="299.41" y="318.8" width="3.1" height="1" fill="#089981"/>
<rect x="304.92" y="283.9" width="1.1" height="40.2" fill="#089981"/>
<rect x="303.92" y="306.6" width="3.1" height="12.9" fill="#089981"/>
<rect x="309.42" y="296.8" width="1.1" height="44" fill="#f23645"/>
<rect x="308.42" y="306.6" width="3.1" height="23.6" fill="#f23645"/>
<rect x="313.93" y="319.5" width="1.1" height="19.8" fill="#089981"/>
<rect x="312.93" y="325.6" width="3.1" height="4.6" fill="#089981"/>
<rect x="318.43" y="321" width="1.1" height="13.7" fill="#f23645"/>
<rect x="317.43" y="325.6" width="3.1" height="3.8" fill="#f23645"/>
<rect x="322.94" y="308.9" width="1.1" height="41.7" fill="#f23645"/>
<rect x="321.94" y="321" width="3.1" height="20.5" fill="#f23645"/>
<rect x="327.45" y="334.7" width="1.1" height="29.6" fill="#f23645"/>
<rect x="326.45" y="341.5" width="3.1" height="12.9" fill="#f23645"/>
<rect x="331.95" y="340.8" width="1.1" height="51.6" fill="#f23645"/>
<rect x="330.95" y="353.7" width="3.1" height="12.1" fill="#f23645"/>
<rect x="336.46" y="313.5" width="1.1" height="64.5" fill="#089981"/>
<rect x="335.46" y="320.3" width="3.1" height="45.5" fill="#089981"/>
<rect x="340.96" y="310.4" width="1.1" height="16.7" fill="#089981"/>
<rect x="339.96" y="312.7" width="3.1" height="7.6" fill="#089981"/>
<rect x="345.47" y="291.5" width="1.1" height="22.7" fill="#089981"/>
<rect x="344.47" y="300.6" width="3.1" height="12.9" fill="#089981"/>
<rect x="349.98" y="290" width="1.1" height="17.4" fill="#f23645"/>
<rect x="348.98" y="300.6" width="3.1" height="4.5" fill="#f23645"/>
<rect x="354.48" y="297" width="1.1" height="12" fill="#089981"/>
<rect x="353.48" y="303.2" width="3.1" height="1.5" fill="#089981"/>
<rect x="358.99" y="298.6" width="1.1" height="6.1" fill="#089981"/>
<rect x="357.99" y="300.2" width="3.1" height="3" fill="#089981"/>
<rect x="363.5" y="288.8" width="1.1" height="12.9" fill="#089981"/>
<rect x="362.5" y="291" width="3.1" height="9.9" fill="#089981"/>
<rect x="368" y="286.5" width="1.1" height="19.7" fill="#f23645"/>
<rect x="367" y="291" width="3.1" height="13.7" fill="#f23645"/>
<rect x="372.51" y="298.6" width="1.1" height="22.8" fill="#f23645"/>
<rect x="371.51" y="304.7" width="3.1" height="12.1" fill="#f23645"/>
<rect x="377.01" y="275.1" width="1.1" height="47.1" fill="#089981"/>
<rect x="376.01" y="285.7" width="3.1" height="31.1" fill="#089981"/>
<rect x="381.52" y="267.5" width="1.1" height="20.5" fill="#089981"/>
<rect x="380.52" y="277.4" width="3.1" height="8.3" fill="#089981"/>
<rect x="386.03" y="275.1" width="1.1" height="24.3" fill="#f23645"/>
<rect x="385.03" y="277.4" width="3.1" height="15.2" fill="#f23645"/>
<rect x="390.53" y="290.3" width="1.1" height="3.7" fill="#089981"/>
<rect x="389.53" y="291.1" width="3.1" height="1.5" fill="#089981"/>
<rect x="395.04" y="277.4" width="1.1" height="16.7" fill="#089981"/>
<rect x="394.04" y="281.9" width="3.1" height="9.9" fill="#089981"/>
<rect x="399.55" y="276.6" width="1.1" height="21.3" fill="#f23645"/>
<rect x="398.55" y="281.9" width="3.1" height="9.9" fill="#f23645"/>
<rect x="404.05" y="281.2" width="1.1" height="17.4" fill="#089981"/>
<rect x="403.05" y="284.2" width="3.1" height="7.6" fill="#089981"/>
<rect x="408.56" y="253.9" width="1.1" height="36.4" fill="#089981"/>
<rect x="407.56" y="260.7" width="3.1" height="23.5" fill="#089981"/>
<rect x="413.06" y="208.3" width="1.1" height="60" fill="#089981"/>
<rect x="412.06" y="221.2" width="3.1" height="40.3" fill="#089981"/>
<rect x="417.57" y="188.9" width="1.1" height="39.1" fill="#089981"/>
<rect x="416.57" y="203.9" width="3.1" height="17.6" fill="#089981"/>
<rect x="422.08" y="196.9" width="1.1" height="13.9" fill="#f23645"/>
<rect x="421.08" y="203.9" width="3.1" height="2.7" fill="#f23645"/>
<rect x="426.58" y="184.1" width="1.1" height="24.1" fill="#089981"/>
<rect x="425.58" y="185.1" width="3.1" height="21.5" fill="#089981"/>
<rect x="431.09" y="149.8" width="1.1" height="36.9" fill="#089981"/>
<rect x="430.09" y="174.4" width="3.1" height="11.8" fill="#089981"/>
<rect x="435.59" y="172.8" width="1.1" height="41.8" fill="#f23645"/>
<rect x="434.59" y="174.4" width="3.1" height="20.9" fill="#f23645"/>
<rect x="440.1" y="171.2" width="1.1" height="31.1" fill="#089981"/>
<rect x="439.1" y="185.1" width="3.1" height="10.2" fill="#089981"/>
<rect x="444.61" y="162.7" width="1.1" height="35.8" fill="#089981"/>
<rect x="443.61" y="180.3" width="3.1" height="4.8" fill="#089981"/>
<rect x="449.11" y="163.2" width="1.1" height="40.7" fill="#f23645"/>
<rect x="448.11" y="180.3" width="3.1" height="12.9" fill="#f23645"/>
<rect x="453.62" y="187.4" width="1.1" height="12.2" fill="#f23645"/>
<rect x="452.62" y="192.6" width="3.1" height="1.1" fill="#f23645"/>
<rect x="458.13" y="185.1" width="1.1" height="24.7" fill="#f23645"/>
<rect x="457.13" y="194.2" width="3.1" height="5.9" fill="#f23645"/>
<rect x="462.63" y="175.5" width="1.1" height="30.5" fill="#089981"/>
<rect x="461.63" y="198.5" width="3.1" height="1.6" fill="#089981"/>
<rect x="467.14" y="169.1" width="1.1" height="41.7" fill="#089981"/>
<rect x="466.14" y="171.2" width="3.1" height="27.8" fill="#089981"/>
<rect x="471.64" y="169.6" width="1.1" height="28.9" fill="#f23645"/>
<rect x="470.64" y="171.2" width="3.1" height="13.4" fill="#f23645"/>
<rect x="476.15" y="175" width="1.1" height="25.1" fill="#f23645"/>
<rect x="475.15" y="184.6" width="3.1" height="3.8" fill="#f23645"/>
<rect x="480.66" y="187.8" width="1.1" height="37" fill="#f23645"/>
<rect x="479.66" y="187.8" width="3.1" height="9.7" fill="#f23645"/>
<rect x="485.16" y="189.4" width="1.1" height="11.8" fill="#089981"/>
<rect x="484.16" y="194.2" width="3.1" height="3.3" fill="#089981"/>
<rect x="489.67" y="173.4" width="1.1" height="20.8" fill="#089981"/>
<rect x="488.67" y="177.6" width="3.1" height="16.1" fill="#089981"/>
<rect x="494.18" y="173.4" width="1.1" height="24.1" fill="#f23645"/>
<rect x="493.18" y="177.6" width="3.1" height="14" fill="#f23645"/>
<rect x="498.68" y="178.9" width="1.1" height="22.7" fill="#f23645"/>
<rect x="497.68" y="190.9" width="3.1" height="2.7" fill="#f23645"/>
<rect x="503.19" y="184.2" width="1.1" height="29.5" fill="#f23645"/>
<rect x="502.19" y="189.6" width="3.1" height="4.7" fill="#f23645"/>
<rect x="507.69" y="186" width="1.1" height="29.7" fill="#f23645"/>
<rect x="506.69" y="192.3" width="3.1" height="22.7" fill="#f23645"/>
<rect x="512.2" y="211" width="1.1" height="33.4" fill="#f23645"/>
<rect x="511.2" y="214.3" width="3.1" height="24.8" fill="#f23645"/>
<rect x="516.71" y="231.1" width="1.1" height="20.7" fill="#f23645"/>
<rect x="515.71" y="239.1" width="3.1" height="8" fill="#f23645"/>
<rect x="521.21" y="222.4" width="1.1" height="30.7" fill="#089981"/>
<rect x="520.21" y="229.7" width="3.1" height="17.4" fill="#089981"/>
<rect x="525.72" y="214.3" width="1.1" height="16.8" fill="#089981"/>
<rect x="524.72" y="222.4" width="3.1" height="8" fill="#089981"/>
<rect x="530.23" y="221" width="1.1" height="24.8" fill="#f23645"/>
<rect x="529.23" y="221.7" width="3.1" height="10.7" fill="#f23645"/>
<rect x="534.73" y="214.3" width="1.1" height="24.8" fill="#089981"/>
<rect x="533.73" y="221.7" width="3.1" height="10.7" fill="#089981"/>
<rect x="539.24" y="194.9" width="1.1" height="34.2" fill="#089981"/>
<rect x="538.24" y="196.9" width="3.1" height="25.5" fill="#089981"/>
<rect x="543.74" y="194.3" width="1.1" height="17.7" fill="#f23645"/>
<rect x="542.74" y="196.9" width="3.1" height="10.7" fill="#f23645"/>
<rect x="548.25" y="196.9" width="1.1" height="16.8" fill="#f23645"/>
<rect x="547.25" y="207.6" width="3.1" height="6.1" fill="#f23645"/>
<rect x="552.76" y="181.6" width="1.1" height="32.7" fill="#089981"/>
<rect x="551.76" y="181.6" width="3.1" height="32.1" fill="#089981"/>
<rect x="557.26" y="149.4" width="1.1" height="40.9" fill="#f23645"/>
<rect x="556.26" y="181.6" width="3.1" height="4" fill="#f23645"/>
<rect x="561.77" y="169.5" width="1.1" height="20.1" fill="#089981"/>
<rect x="560.77" y="171.5" width="3.1" height="14.1" fill="#089981"/>
<rect x="566.27" y="141.4" width="1.1" height="40.8" fill="#089981"/>
<rect x="565.27" y="143.4" width="3.1" height="28.1" fill="#089981"/>
<rect x="570.78" y="134" width="1.1" height="66.3" fill="#f23645"/>
<rect x="569.78" y="143.4" width="3.1" height="44.8" fill="#f23645"/>
<rect x="575.29" y="178.1" width="1.1" height="24.7" fill="#f23645"/>
<rect x="574.29" y="186.8" width="3.1" height="10.7" fill="#f23645"/>
<rect x="579.79" y="191" width="1.1" height="7.3" fill="#089981"/>
<rect x="578.79" y="196.1" width="3.1" height="1.4" fill="#089981"/>
<rect x="584.3" y="184.1" width="1.1" height="13.4" fill="#f23645"/>
<rect x="583.3" y="196.1" width="3.1" height="1" fill="#f23645"/>
<rect x="588.81" y="195.5" width="1.1" height="30.1" fill="#f23645"/>
<rect x="587.81" y="196.8" width="3.1" height="12.7" fill="#f23645"/>
<rect x="593.31" y="204.8" width="1.1" height="40.2" fill="#f23645"/>
<rect x="592.31" y="209.5" width="3.1" height="35.5" fill="#f23645"/>
<rect x="597.82" y="225.6" width="1.1" height="23.4" fill="#089981"/>
<rect x="596.82" y="229.6" width="3.1" height="15.4" fill="#089981"/>
<rect x="602.32" y="224.2" width="1.1" height="28.1" fill="#f23645"/>
<rect x="601.32" y="229.6" width="3.1" height="19.4" fill="#f23645"/>
<rect x="606.83" y="198.8" width="1.1" height="57.5" fill="#089981"/>
<rect x="605.83" y="210.8" width="3.1" height="38.2" fill="#089981"/>
<rect x="611.34" y="209.5" width="1.1" height="23.4" fill="#f23645"/>
<rect x="610.34" y="210.8" width="3.1" height="15.4" fill="#f23645"/>
<rect x="615.84" y="223.6" width="1.1" height="46.8" fill="#f23645"/>
<rect x="614.84" y="226.2" width="3.1" height="13.4" fill="#f23645"/>
<rect x="620.35" y="236.3" width="1.1" height="43.5" fill="#f23645"/>
<rect x="619.35" y="239.6" width="3.1" height="32.1" fill="#f23645"/>
<rect x="624.86" y="249" width="1.1" height="36.8" fill="#089981"/>
<rect x="623.86" y="255" width="3.1" height="17.4" fill="#089981"/>
<rect x="629.36" y="246.3" width="1.1" height="23.4" fill="#f23645"/>
<rect x="628.36" y="255.7" width="3.1" height="6" fill="#f23645"/>
<rect x="633.87" y="237.6" width="1.1" height="26.1" fill="#089981"/>
<rect x="632.87" y="245.6" width="3.1" height="16.1" fill="#089981"/>
<rect x="638.37" y="246.3" width="1.1" height="51.5" fill="#f23645"/>
<rect x="637.37" y="247" width="3.1" height="43.5" fill="#f23645"/>
<rect x="642.88" y="283" width="1.1" height="14.5" fill="#089981"/>
<rect x="641.88" y="285.1" width="3.1" height="5.4" fill="#089981"/>
<rect x="647.39" y="277.8" width="1.1" height="14.7" fill="#f23645"/>
<rect x="646.39" y="285.1" width="3.1" height="7.4" fill="#f23645"/>
<rect x="651.89" y="274.4" width="1.1" height="26.8" fill="#089981"/>
<rect x="650.89" y="281.1" width="3.1" height="11.4" fill="#089981"/>
<rect x="656.4" y="255" width="1.1" height="34.1" fill="#089981"/>
<rect x="655.4" y="261.7" width="3.1" height="19.4" fill="#089981"/>
<rect x="660.9" y="246.9" width="1.1" height="22.8" fill="#089981"/>
<rect x="659.9" y="256.3" width="3.1" height="8.7" fill="#089981"/>
<rect x="665.41" y="251" width="1.1" height="28.1" fill="#f23645"/>
<rect x="664.41" y="256.3" width="3.1" height="9.4" fill="#f23645"/>
<rect x="669.92" y="238.2" width="1.1" height="36.8" fill="#f23645"/>
<rect x="668.92" y="265" width="3.1" height="1.3" fill="#f23645"/>
<rect x="674.42" y="259.7" width="1.1" height="14" fill="#f23645"/>
<rect x="673.42" y="266.3" width="3.1" height="6.1" fill="#f23645"/>
<rect x="678.93" y="257" width="1.1" height="16" fill="#089981"/>
<rect x="677.93" y="262.3" width="3.1" height="10.1" fill="#089981"/>
<rect x="683.44" y="242.9" width="1.1" height="23.4" fill="#089981"/>
<rect x="682.44" y="252.3" width="3.1" height="10" fill="#089981"/>
<rect x="687.94" y="240.3" width="1.1" height="23.4" fill="#f23645"/>
<rect x="686.94" y="252.3" width="3.1" height="6.7" fill="#f23645"/>
<rect x="692.45" y="229.5" width="1.1" height="32.8" fill="#089981"/>
<rect x="691.45" y="233.6" width="3.1" height="25.4" fill="#089981"/>
<rect x="696.95" y="216.8" width="1.1" height="20.8" fill="#089981"/>
<rect x="695.95" y="217.5" width="3.1" height="16.1" fill="#089981"/>
<rect x="701.46" y="204.1" width="1.1" height="20.1" fill="#089981"/>
<rect x="700.46" y="212.2" width="3.1" height="5.3" fill="#089981"/>
<rect x="705.97" y="210.1" width="1.1" height="14.1" fill="#f23645"/>
<rect x="704.97" y="212.2" width="3.1" height="4" fill="#f23645"/>
<rect x="710.47" y="211.5" width="1.1" height="12" fill="#f23645"/>
<rect x="709.47" y="216.2" width="3.1" height="3.3" fill="#f23645"/>
<rect x="714.98" y="204.1" width="1.1" height="24.1" fill="#089981"/>
<rect x="713.98" y="217.5" width="3.1" height="1.3" fill="#089981"/>
<rect x="719.49" y="201.4" width="1.1" height="23.5" fill="#089981"/>
<rect x="718.49" y="203.5" width="3.1" height="14.7" fill="#089981"/>
<rect x="723.99" y="198.8" width="1.1" height="25.4" fill="#f23645"/>
<rect x="722.99" y="203.5" width="3.1" height="4.6" fill="#f23645"/>
<rect x="728.5" y="192.7" width="1.1" height="17.4" fill="#089981"/>
<rect x="727.5" y="200.8" width="3.1" height="7.3" fill="#089981"/>
<rect x="733" y="196.8" width="1.1" height="22" fill="#f23645"/>
<rect x="732" y="200.8" width="3.1" height="13.4" fill="#f23645"/>
<rect x="737.51" y="209.8" width="1.1" height="7.1" fill="#089981"/>
<rect x="736.51" y="212.5" width="3.1" height="1.8" fill="#089981"/>
<rect x="742.02" y="211.6" width="1.1" height="8.9" fill="#f23645"/>
<rect x="741.02" y="213.4" width="3.1" height="6.2" fill="#f23645"/>
<rect x="746.52" y="217.9" width="1.1" height="34.8" fill="#f23645"/>
<rect x="745.52" y="219.6" width="3.1" height="26.8" fill="#f23645"/>
<rect x="751.03" y="239.3" width="1.1" height="18.7" fill="#f23645"/>
<rect x="750.03" y="245.5" width="3.1" height="8.1" fill="#f23645"/>
<rect x="755.54" y="233" width="1.1" height="28.6" fill="#089981"/>
<rect x="754.54" y="239.3" width="3.1" height="14.3" fill="#089981"/>
<rect x="760.04" y="237.5" width="1.1" height="49.1" fill="#f23645"/>
<rect x="759.04" y="238.4" width="3.1" height="45.5" fill="#f23645"/>
<rect x="764.55" y="269.6" width="1.1" height="17" fill="#089981"/>
<rect x="763.55" y="276.8" width="3.1" height="7.1" fill="#089981"/>
<rect x="769.05" y="275.9" width="1.1" height="5.3" fill="#089981"/>
<rect x="768.05" y="275.9" width="3.1" height="1.8" fill="#089981"/>
<rect x="773.56" y="248.2" width="1.1" height="32.2" fill="#089981"/>
<rect x="772.56" y="250" width="3.1" height="26.8" fill="#089981"/>
<rect x="778.07" y="227.7" width="1.1" height="29.4" fill="#089981"/>
<rect x="777.07" y="228.6" width="3.1" height="21.4" fill="#089981"/>
<rect x="782.57" y="224.1" width="1.1" height="21.4" fill="#f23645"/>
<rect x="781.57" y="229.5" width="3.1" height="2.6" fill="#f23645"/>
<rect x="787.08" y="186.6" width="1.1" height="46.9" fill="#089981"/>
<rect x="786.08" y="186.6" width="3.1" height="46.4" fill="#089981"/>
<rect x="791.58" y="161.6" width="1.1" height="26.8" fill="#089981"/>
<rect x="790.58" y="167" width="3.1" height="20.5" fill="#089981"/>
<rect x="796.09" y="133.9" width="1.1" height="45.6" fill="#089981"/>
<rect x="795.09" y="150.9" width="3.1" height="16.1" fill="#089981"/>
<rect x="800.6" y="143.8" width="1.1" height="16.9" fill="#f23645"/>
<rect x="799.6" y="150.9" width="3.1" height="1" fill="#f23645"/>
<rect x="805.1" y="122.3" width="1.1" height="33.1" fill="#089981"/>
<rect x="804.1" y="141.1" width="3.1" height="9.8" fill="#089981"/>
<rect x="809.61" y="112.5" width="1.1" height="29.5" fill="#089981"/>
<rect x="808.61" y="126.8" width="3.1" height="14.3" fill="#089981"/>
<rect x="814.12" y="119.6" width="1.1" height="45.6" fill="#f23645"/>
<rect x="813.12" y="126.8" width="3.1" height="30.3" fill="#f23645"/>
<rect x="818.62" y="129" width="1.1" height="30.1" fill="#089981"/>
<rect x="817.62" y="137.9" width="3.1" height="19.2" fill="#089981"/>
<rect x="823.13" y="133.5" width="1.1" height="40.1" fill="#f23645"/>
<rect x="822.13" y="137.9" width="3.1" height="15.6" fill="#f23645"/>
<rect x="827.63" y="145.7" width="1.1" height="152.8" fill="#f23645"/>
<rect x="826.63" y="154.6" width="3.1" height="72.5" fill="#f23645"/>
<rect x="832.14" y="226" width="1.1" height="37.9" fill="#f23645"/>
<rect x="831.14" y="226" width="3.1" height="22.3" fill="#f23645"/>
<rect x="836.65" y="207" width="1.1" height="54.7" fill="#089981"/>
<rect x="835.65" y="220.4" width="3.1" height="27.9" fill="#089981"/>
<rect x="841.15" y="208.2" width="1.1" height="25.6" fill="#089981"/>
<rect x="840.15" y="219.3" width="3.1" height="1.1" fill="#089981"/>
<rect x="845.66" y="211.5" width="1.1" height="61.3" fill="#f23645"/>
<rect x="844.66" y="218.2" width="3.1" height="23.4" fill="#f23645"/>
<rect x="850.17" y="234.9" width="1.1" height="35.7" fill="#f23645"/>
<rect x="849.17" y="241.6" width="3.1" height="24.5" fill="#f23645"/>
<rect x="854.67" y="253.9" width="1.1" height="44.6" fill="#f23645"/>
<rect x="853.67" y="266.1" width="3.1" height="25.7" fill="#f23645"/>
<rect x="859.18" y="281.8" width="1.1" height="56.8" fill="#f23645"/>
<rect x="858.18" y="291.8" width="3.1" height="17.8" fill="#f23645"/>
<rect x="863.68" y="299" width="1.1" height="12" fill="#089981"/>
<rect x="862.68" y="300.7" width="3.1" height="8.9" fill="#089981"/>
<rect x="868.19" y="277.3" width="1.1" height="33.4" fill="#089981"/>
<rect x="867.19" y="287.3" width="3.1" height="13.4" fill="#089981"/>
<rect x="872.7" y="256.1" width="1.1" height="42.4" fill="#089981"/>
<rect x="871.7" y="267.3" width="3.1" height="20" fill="#089981"/>
<rect x="877.2" y="232.7" width="1.1" height="65.8" fill="#f23645"/>
<rect x="876.2" y="267.3" width="3.1" height="24.5" fill="#f23645"/>
<rect x="881.71" y="284" width="1.1" height="24.5" fill="#f23645"/>
<rect x="880.71" y="290.7" width="3.1" height="7.8" fill="#f23645"/>
<rect x="886.21" y="259.5" width="1.1" height="39" fill="#089981"/>
<rect x="885.21" y="271.7" width="3.1" height="26.8" fill="#089981"/>
<rect x="890.72" y="251.6" width="1.1" height="21.2" fill="#089981"/>
<rect x="889.72" y="263.9" width="3.1" height="7.8" fill="#089981"/>
<rect x="895.23" y="255" width="1.1" height="11.1" fill="#089981"/>
<rect x="894.23" y="257.2" width="3.1" height="6.7" fill="#089981"/>
<rect x="899.73" y="220" width="1.1" height="40.3" fill="#089981"/>
<rect x="898.73" y="228.4" width="3.1" height="30" fill="#089981"/>
<rect x="904.24" y="209.5" width="1.1" height="24.5" fill="#f23645"/>
<rect x="903.24" y="228.4" width="3.1" height="3.8" fill="#f23645"/>
<rect x="908.75" y="210.6" width="1.1" height="35.6" fill="#f23645"/>
<rect x="907.75" y="232.2" width="3.1" height="12.1" fill="#f23645"/>
<rect x="913.25" y="235.9" width="1.1" height="43.1" fill="#f23645"/>
<rect x="912.25" y="243.4" width="3.1" height="30" fill="#f23645"/>
<rect x="917.76" y="257.4" width="1.1" height="52.5" fill="#f23645"/>
<rect x="916.76" y="273.4" width="3.1" height="17.8" fill="#f23645"/>
<rect x="922.26" y="275" width="1.1" height="17" fill="#089981"/>
<rect x="921.26" y="279" width="3.1" height="12.2" fill="#089981"/>
<rect x="926.77" y="269.6" width="1.1" height="12.3" fill="#089981"/>
<rect x="925.77" y="274.3" width="3.1" height="4.7" fill="#089981"/>
<rect x="931.28" y="264" width="1.1" height="12.2" fill="#089981"/>
<rect x="930.28" y="268.7" width="3.1" height="5.6" fill="#089981"/>
<rect x="935.78" y="266.8" width="1.1" height="53.4" fill="#f23645"/>
<rect x="934.78" y="268.7" width="3.1" height="41.2" fill="#f23645"/>
<rect x="940.29" y="301.5" width="1.1" height="86.1" fill="#f23645"/>
<rect x="939.29" y="309" width="3.1" height="51.5" fill="#f23645"/>
<rect x="944.8" y="328.6" width="1.1" height="56.2" fill="#089981"/>
<rect x="943.8" y="336.1" width="3.1" height="24.4" fill="#089981"/>
<rect x="949.3" y="332.4" width="1.1" height="40.2" fill="#f23645"/>
<rect x="948.3" y="336.1" width="3.1" height="26.2" fill="#f23645"/>
<rect x="953.81" y="335.2" width="1.1" height="47.8" fill="#089981"/>
<rect x="952.81" y="342.7" width="3.1" height="19.6" fill="#089981"/>
<rect x="958.31" y="341.7" width="1.1" height="18.8" fill="#f23645"/>
<rect x="957.31" y="342.7" width="3.1" height="10.3" fill="#f23645"/>
<rect x="962.82" y="321.1" width="1.1" height="40.3" fill="#089981"/>
<rect x="961.82" y="328.6" width="3.1" height="24.4" fill="#089981"/>
<rect x="967.33" y="308" width="1.1" height="20.6" fill="#089981"/>
<rect x="966.33" y="314.6" width="3.1" height="14" fill="#089981"/>
<rect x="971.83" y="300.5" width="1.1" height="49.7" fill="#f23645"/>
<rect x="970.83" y="314.6" width="3.1" height="30.9" fill="#f23645"/>
<rect x="976.34" y="321.1" width="1.1" height="45" fill="#f23645"/>
<rect x="975.34" y="345.5" width="3.1" height="13.1" fill="#f23645"/>
<rect x="980.85" y="334.2" width="1.1" height="61.9" fill="#f23645"/>
<rect x="979.85" y="358.6" width="3.1" height="20.6" fill="#f23645"/>
<rect x="985.35" y="377.9" width="1.1" height="59.1" fill="#f23645"/>
<rect x="984.35" y="379" width="3.1" height="52.4" fill="#f23645"/>
<rect x="989.86" y="409.1" width="1.1" height="23.5" fill="#089981"/>
<rect x="988.86" y="420.3" width="3.1" height="12.3" fill="#089981"/>
<rect x="994.36" y="411.4" width="1.1" height="35.6" fill="#f23645"/>
<rect x="993.36" y="420.3" width="3.1" height="15.6" fill="#f23645"/>
<rect x="998.87" y="417" width="1.1" height="47.9" fill="#f23645"/>
<rect x="997.87" y="435.9" width="3.1" height="21.2" fill="#f23645"/>
<rect x="1003.38" y="440.4" width="1.1" height="45.7" fill="#089981"/>
<rect x="1002.38" y="449.3" width="3.1" height="7.8" fill="#089981"/>
<rect x="1007.88" y="448.2" width="1.1" height="44.6" fill="#f23645"/>
<rect x="1006.88" y="449.3" width="3.1" height="14.5" fill="#f23645"/>
<rect x="1012.39" y="447" width="1.1" height="69.2" fill="#f23645"/>
<rect x="1011.39" y="462.7" width="3.1" height="51.3" fill="#f23645"/>
<rect x="1016.89" y="505" width="1.1" height="69.2" fill="#f23645"/>
<rect x="1015.89" y="514" width="3.1" height="14.4" fill="#f23645"/>
<rect x="1021.4" y="521.8" width="1.1" height="21.2" fill="#f23645"/>
<rect x="1020.4" y="528.4" width="3.1" height="3.4" fill="#f23645"/>
<rect x="1025.91" y="495" width="1.1" height="36.8" fill="#089981"/>
<rect x="1024.91" y="509.5" width="3.1" height="22.3" fill="#089981"/>
<rect x="1030.41" y="486" width="1.1" height="39.1" fill="#089981"/>
<rect x="1029.41" y="495" width="3.1" height="14.5" fill="#089981"/>
<rect x="1034.92" y="493.9" width="1.1" height="23.4" fill="#f23645"/>
<rect x="1033.92" y="495" width="3.1" height="10" fill="#f23645"/>
<rect x="1039.43" y="471.6" width="1.1" height="43.5" fill="#089981"/>
<rect x="1038.43" y="472.7" width="3.1" height="32.3" fill="#089981"/>
<rect x="1043.93" y="457" width="1.1" height="19" fill="#089981"/>
<rect x="1042.93" y="463.8" width="3.1" height="8.9" fill="#089981"/>
<rect x="1048.44" y="446" width="1.1" height="27.8" fill="#f23645"/>
<rect x="1047.44" y="464.9" width="3.1" height="3.3" fill="#f23645"/>
<rect x="1052.94" y="462.6" width="1.1" height="11.2" fill="#f23645"/>
<rect x="1051.94" y="468.2" width="3.1" height="1.1" fill="#f23645"/>
<rect x="1057.45" y="456" width="1.1" height="17.8" fill="#f23645"/>
<rect x="1056.45" y="469.3" width="3.1" height="4.5" fill="#f23645"/>
<rect x="1061.96" y="470" width="1.1" height="70.6" fill="#f23645"/>
<rect x="1060.96" y="474" width="3.1" height="41.7" fill="#f23645"/>
<rect x="1066.46" y="460" width="1.1" height="57" fill="#089981"/>
<rect x="1065.46" y="465.1" width="3.1" height="50.6" fill="#089981"/>
<rect x="1070.97" y="435.4" width="1.1" height="32.6" fill="#089981"/>
<rect x="1069.97" y="443.5" width="3.1" height="21.6" fill="#089981"/>
<rect x="1075.48" y="385.6" width="1.1" height="81.1" fill="#f23645"/>
<rect x="1074.48" y="443.5" width="3.1" height="10.4" fill="#f23645"/>
<rect x="1079.98" y="450.7" width="1.1" height="45" fill="#f23645"/>
<rect x="1078.98" y="453.9" width="3.1" height="30.5" fill="#f23645"/>
<rect x="1084.49" y="476.4" width="1.1" height="10.4" fill="#089981"/>
<rect x="1083.49" y="481.2" width="3.1" height="4" fill="#089981"/>
<rect x="1088.99" y="461.1" width="1.1" height="37.8" fill="#089981"/>
<rect x="1087.99" y="474" width="3.1" height="10.4" fill="#089981"/>
<rect x="1093.5" y="454.7" width="1.1" height="26.5" fill="#089981"/>
<rect x="1092.5" y="471.6" width="3.1" height="4" fill="#089981"/>
<rect x="1098.01" y="419.4" width="1.1" height="61.8" fill="#089981"/>
<rect x="1097.01" y="450.7" width="3.1" height="21.7" fill="#089981"/>
<rect x="1102.51" y="432.2" width="1.1" height="28.8" fill="#f23645"/>
<rect x="1101.51" y="450.7" width="3.1" height="8" fill="#f23645"/>
<rect x="1107.02" y="441" width="1.1" height="43.4" fill="#089981"/>
<rect x="1106.02" y="452.3" width="3.1" height="6.4" fill="#089981"/>
<rect x="1111.53" y="450.7" width="1.1" height="30.5" fill="#f23645"/>
<rect x="1110.53" y="452.3" width="3.1" height="24.1" fill="#f23645"/>
<rect x="1116.03" y="472.4" width="1.1" height="5.6" fill="#f23645"/>
<rect x="1115.03" y="474" width="3.1" height="2.4" fill="#f23645"/>
<rect x="1120.54" y="474" width="1.1" height="25.7" fill="#f23645"/>
<rect x="1119.54" y="474.8" width="3.1" height="21.7" fill="#f23645"/>
<rect x="1125.04" y="478" width="1.1" height="46.3" fill="#f23645"/>
<rect x="1124.04" y="494" width="3.1" height="19.3" fill="#f23645"/>
<rect x="1129.55" y="497.3" width="1.1" height="27.7" fill="#089981"/>
<rect x="1128.55" y="499.7" width="3.1" height="13.6" fill="#089981"/>
<rect x="1134.06" y="474.8" width="1.1" height="49.9" fill="#f23645"/>
<rect x="1133.06" y="502.9" width="3.1" height="16.1" fill="#f23645"/>
<rect x="1138.56" y="486" width="1.1" height="48.3" fill="#f23645"/>
<rect x="1137.56" y="517.3" width="3.1" height="7.3" fill="#f23645"/>
<rect x="1143.07" y="484.2" width="1.1" height="42.8" fill="#089981"/>
<rect x="1142.07" y="496.3" width="3.1" height="29.3" fill="#089981"/>
<rect x="1147.57" y="489.9" width="1.1" height="11.4" fill="#089981"/>
<rect x="1146.57" y="494.2" width="3.1" height="3.6" fill="#089981"/>
<rect x="1152.08" y="487" width="1.1" height="14.3" fill="#089981"/>
<rect x="1151.08" y="493.5" width="3.1" height="2.1" fill="#089981"/>
<rect x="1156.59" y="473.5" width="1.1" height="25" fill="#f23645"/>
<rect x="1155.59" y="490.6" width="3.1" height="3.6" fill="#f23645"/>
<rect x="1161.09" y="489.2" width="1.1" height="20.7" fill="#f23645"/>
<rect x="1160.09" y="493.5" width="3.1" height="12.8" fill="#f23645"/>
<rect x="1165.6" y="498.5" width="1.1" height="13.5" fill="#089981"/>
<rect x="1164.6" y="501.3" width="3.1" height="2.9" fill="#089981"/>
<rect x="1170.11" y="493.5" width="1.1" height="15" fill="#f23645"/>
<rect x="1169.11" y="502" width="3.1" height="5" fill="#f23645"/>
<rect x="1174.61" y="485" width="1.1" height="25.6" fill="#089981"/>
<rect x="1173.61" y="505" width="3.1" height="1.3" fill="#089981"/>
<rect x="1179.12" y="499.9" width="1.1" height="5.1" fill="#089981"/>
<rect x="1178.12" y="500.6" width="3.1" height="4.4" fill="#089981"/>
<rect x="1183.62" y="499" width="1.1" height="4" fill="#f23645"/>
<rect x="1182.62" y="500.6" width="3.1" height="1.4" fill="#f23645"/>
<rect x="1188.13" y="476.3" width="1.1" height="34.3" fill="#f23645"/>
<rect x="1187.13" y="497" width="3.1" height="10" fill="#f23645"/>
<rect x="1192.64" y="485.6" width="1.1" height="24.3" fill="#089981"/>
<rect x="1191.64" y="493.5" width="3.1" height="12.8" fill="#089981"/>
<rect x="1197.14" y="487.8" width="1.1" height="29.9" fill="#f23645"/>
<rect x="1196.14" y="494.2" width="3.1" height="8.5" fill="#f23645"/>
<rect x="1201.65" y="487" width="1.1" height="18" fill="#089981"/>
<rect x="1200.65" y="490.6" width="3.1" height="11.4" fill="#089981"/>
<rect x="1206.16" y="469.2" width="1.1" height="22.8" fill="#089981"/>
<rect x="1205.16" y="478.5" width="3.1" height="12.8" fill="#089981"/>
<rect x="1210.66" y="469.9" width="1.1" height="14.3" fill="#089981"/>
<rect x="1209.66" y="471.4" width="3.1" height="7.1" fill="#089981"/>
<rect x="1215.17" y="459.9" width="1.1" height="11.5" fill="#089981"/>
<rect x="1214.17" y="462.1" width="3.1" height="8.5" fill="#089981"/>
<rect x="1219.67" y="426.4" width="1.1" height="36.6" fill="#089981"/>
<rect x="1218.67" y="437.8" width="3.1" height="24.3" fill="#089981"/>
<rect x="1224.18" y="430.7" width="1.1" height="32.8" fill="#f23645"/>
<rect x="1223.18" y="437.8" width="3.1" height="2.9" fill="#f23645"/>
<rect x="1228.69" y="440" width="1.1" height="29.9" fill="#f23645"/>
<rect x="1227.69" y="440" width="3.1" height="25.6" fill="#f23645"/>
<rect x="1233.19" y="462.1" width="1.1" height="23.5" fill="#f23645"/>
<rect x="1232.19" y="465.6" width="3.1" height="2.2" fill="#f23645"/>
<rect x="1237.7" y="457" width="1.1" height="27.2" fill="#f23645"/>
<rect x="1236.7" y="467" width="3.1" height="5.8" fill="#f23645"/>
<rect x="1242.2" y="469.9" width="1.1" height="6.1" fill="#f23645"/>
<rect x="1241.2" y="472" width="3.1" height="2.2" fill="#f23645"/>
<rect x="1246.71" y="466.4" width="1.1" height="9.2" fill="#089981"/>
<rect x="1245.71" y="469.2" width="3.1" height="5" fill="#089981"/>
<rect x="1251.22" y="453.5" width="1.1" height="23.6" fill="#089981"/>
<rect x="1250.22" y="465.6" width="3.1" height="3.6" fill="#089981"/>
<rect x="1255.72" y="412.1" width="1.1" height="54.3" fill="#089981"/>
<rect x="1254.72" y="422.1" width="3.1" height="43.5" fill="#089981"/>
<rect x="1260.23" y="397.1" width="1.1" height="32.1" fill="#089981"/>
<rect x="1259.23" y="405" width="3.1" height="17.8" fill="#089981"/>
<rect x="1264.74" y="405" width="1.1" height="20" fill="#f23645"/>
<rect x="1263.74" y="405.7" width="3.1" height="15.7" fill="#f23645"/>
<rect x="1269.24" y="417.1" width="1.1" height="16.4" fill="#f23645"/>
<rect x="1268.24" y="420.7" width="3.1" height="1.4" fill="#f23645"/>
<rect x="1273.75" y="420" width="1.1" height="7" fill="#f23645"/>
<rect x="1272.75" y="421.4" width="3.1" height="4.3" fill="#f23645"/>
<rect x="1278.25" y="417.1" width="1.1" height="24.9" fill="#f23645"/>
<rect x="1277.25" y="424.2" width="3.1" height="17.2" fill="#f23645"/>
<rect x="1282.76" y="441" width="1.1" height="14.6" fill="#f23645"/>
<rect x="1281.76" y="441.4" width="3.1" height="10.6" fill="#f23645"/>
<rect x="1287.27" y="448.4" width="1.1" height="51.3" fill="#f23645"/>
<rect x="1286.27" y="452" width="3.1" height="42.5" fill="#f23645"/>
<rect x="1291.77" y="473" width="1.1" height="33.7" fill="#089981"/>
<rect x="1290.77" y="483.7" width="3.1" height="10.8" fill="#089981"/>
<rect x="1296.28" y="475.1" width="1.1" height="17.7" fill="#f23645"/>
<rect x="1295.28" y="483.7" width="3.1" height="1" fill="#f23645"/>
<rect x="1300.79" y="466" width="1.1" height="26.8" fill="#089981"/>
<rect x="1299.79" y="483" width="3.1" height="1.2" fill="#089981"/>
<rect x="1305.29" y="480" width="1.1" height="7" fill="#f23645"/>
<rect x="1304.29" y="483.2" width="3.1" height="3.2" fill="#f23645"/>
<rect x="1309.8" y="485.5" width="1.1" height="32.5" fill="#f23645"/>
<rect x="1308.8" y="486.4" width="3.1" height="26.7" fill="#f23645"/>
<rect x="1314.3" y="490.1" width="1.1" height="23.9" fill="#089981"/>
<rect x="1313.3" y="494.9" width="3.1" height="18.2" fill="#089981"/>
<rect x="1318.81" y="483.2" width="1.1" height="23.5" fill="#089981"/>
<rect x="1317.81" y="485.3" width="3.1" height="9.6" fill="#089981"/>
<rect x="1323.32" y="473" width="1.1" height="16.6" fill="#089981"/>
<rect x="1322.32" y="486.4" width="3.1" height="1.1" fill="#089981"/>
<rect x="1327.82" y="485.3" width="1.1" height="59.7" fill="#f23645"/>
<rect x="1326.82" y="486.4" width="3.1" height="47.1" fill="#f23645"/>
<rect x="1332.33" y="530" width="1.1" height="41" fill="#f23645"/>
<rect x="1331.33" y="532.5" width="3.1" height="6.3" fill="#f23645"/>
<rect x="1336.84" y="535" width="1.1" height="87.5" fill="#f23645"/>
<rect x="1335.84" y="537.5" width="3.1" height="56.3" fill="#f23645"/>
<rect x="1341.34" y="586.3" width="1.1" height="36.2" fill="#f23645"/>
<rect x="1340.34" y="592.5" width="3.1" height="18.8" fill="#f23645"/>
<rect x="1345.85" y="587.5" width="1.1" height="47.5" fill="#089981"/>
<rect x="1344.85" y="592.5" width="3.1" height="18.5" fill="#089981"/>
<rect x="1350.35" y="590" width="1.1" height="61" fill="#f23645"/>
<rect x="1349.35" y="592.5" width="3.1" height="32.5" fill="#f23645"/>
<rect x="1354.86" y="613.8" width="1.1" height="48.7" fill="#f23645"/>
<rect x="1353.86" y="623.8" width="3.1" height="27.5" fill="#f23645"/>
<rect x="1359.37" y="650" width="1.1" height="111" fill="#f23645"/>
<rect x="1358.37" y="651.3" width="3.1" height="106.2" fill="#f23645"/>
<rect x="1363.87" y="665" width="1.1" height="118.8" fill="#089981"/>
<rect x="1362.87" y="676.3" width="3.1" height="78.7" fill="#089981"/>
<rect x="1368.38" y="670" width="1.1" height="38.8" fill="#f23645"/>
<rect x="1367.38" y="676.3" width="3.1" height="6.2" fill="#f23645"/>
<rect x="1372.88" y="660" width="1.1" height="33.8" fill="#089981"/>
<rect x="1371.88" y="680" width="3.1" height="11.3" fill="#089981"/>
<rect x="1377.39" y="667.5" width="1.1" height="31.3" fill="#f23645"/>
<rect x="1376.39" y="678.8" width="3.1" height="2.5" fill="#f23645"/>
<rect x="1381.9" y="671.3" width="1.1" height="31.2" fill="#f23645"/>
<rect x="1380.9" y="677.5" width="3.1" height="17.5" fill="#f23645"/>
<rect x="1386.4" y="691.3" width="1.1" height="33.7" fill="#f23645"/>
<rect x="1385.4" y="695" width="3.1" height="17.5" fill="#f23645"/>
<rect x="1390.91" y="705" width="1.1" height="26.3" fill="#f23645"/>
<rect x="1389.91" y="712.5" width="3.1" height="8.8" fill="#f23645"/>
<rect x="1395.42" y="692.5" width="1.1" height="30" fill="#089981"/>
<rect x="1394.42" y="695" width="3.1" height="26.3" fill="#089981"/>
<rect x="1399.92" y="675" width="1.1" height="20.5" fill="#089981"/>
<rect x="1398.92" y="683" width="3.1" height="12" fill="#089981"/>
<rect x="1404.43" y="672.8" width="1.1" height="29.2" fill="#f23645"/>
<rect x="1403.43" y="684.2" width="3.1" height="10.7" fill="#f23645"/>
<rect x="1408.93" y="681.3" width="1.1" height="28.6" fill="#089981"/>
<rect x="1407.93" y="694.2" width="3.1" height="1" fill="#089981"/>
<rect x="1413.44" y="690" width="1.1" height="27" fill="#f23645"/>
<rect x="1412.44" y="694.2" width="3.1" height="14.2" fill="#f23645"/>
<rect x="1417.95" y="697.7" width="1.1" height="26.4" fill="#f23645"/>
<rect x="1416.95" y="707" width="3.1" height="12.9" fill="#f23645"/>
<rect x="1422.45" y="710" width="1.1" height="16.3" fill="#089981"/>
<rect x="1421.45" y="712.7" width="3.1" height="7.2" fill="#089981"/>
<rect x="1426.96" y="700" width="1.1" height="18.4" fill="#089981"/>
<rect x="1425.96" y="702.7" width="3.1" height="10.7" fill="#089981"/>
<rect x="1431.47" y="694.9" width="1.1" height="12.1" fill="#f23645"/>
<rect x="1430.47" y="701.3" width="3.1" height="1.4" fill="#f23645"/>
<rect x="1435.97" y="700" width="1.1" height="10.6" fill="#f23645"/>
<rect x="1434.97" y="702" width="3.1" height="4.3" fill="#f23645"/>
<rect x="1440.48" y="705.6" width="1.1" height="37.8" fill="#f23645"/>
<rect x="1439.48" y="706.3" width="3.1" height="30" fill="#f23645"/>
<rect x="1444.98" y="733.4" width="1.1" height="24.3" fill="#f23645"/>
<rect x="1443.98" y="735.5" width="3.1" height="7.2" fill="#f23645"/>
<rect x="1449.49" y="682" width="1.1" height="60.7" fill="#089981"/>
<rect x="1448.49" y="702.7" width="3.1" height="40" fill="#089981"/>
<rect x="1454" y="694.2" width="1.1" height="22.8" fill="#f23645"/>
<rect x="1453" y="704.2" width="3.1" height="3.5" fill="#f23645"/>
<rect x="1458.5" y="700" width="1.1" height="32.7" fill="#f23645"/>
<rect x="1457.5" y="707" width="3.1" height="17.9" fill="#f23645"/>
<rect x="1463.01" y="705.6" width="1.1" height="47.1" fill="#089981"/>
<rect x="1462.01" y="712" width="3.1" height="12.9" fill="#089981"/>
<rect x="1467.51" y="701.3" width="1.1" height="29.3" fill="#f23645"/>
<rect x="1466.51" y="712" width="3.1" height="13.6" fill="#f23645"/>
<rect x="1472.02" y="681.3" width="1.1" height="49.3" fill="#089981"/>
<rect x="1471.02" y="692.8" width="3.1" height="32.1" fill="#089981"/>
<rect x="1476.53" y="689.9" width="1.1" height="30" fill="#f23645"/>
<rect x="1475.53" y="693.5" width="3.1" height="6.5" fill="#f23645"/>
<rect x="1481.03" y="640.7" width="1.1" height="61.3" fill="#089981"/>
<rect x="1480.03" y="654.2" width="3.1" height="45.8" fill="#089981"/>
<rect x="1485.54" y="649.1" width="1.1" height="11.8" fill="#f23645"/>
<rect x="1484.54" y="654.1" width="3.1" height="1" fill="#f23645"/>
</g>
<text x="26.6" y="67.6" fill="#131722" font-size="16.5" font-weight="normal" textLength="271.9" lengthAdjust="spacingAndGlyphs" stroke="#131722" stroke-width="0.35">Bitcoin / U.S. Dollar · 1D · Binance</text>
<text x="310" y="67.6" fill="#131722" font-size="16.5" font-weight="normal" textLength="11" lengthAdjust="spacingAndGlyphs" stroke="#131722" stroke-width="0.35">O</text>
<text x="321.7" y="67.6" fill="#f23645" font-size="16.5" font-weight="normal" textLength="75.6" lengthAdjust="spacingAndGlyphs" stroke="#f23645" stroke-width="0.35">72,734.62</text>
<text x="409.2" y="67.6" fill="#131722" font-size="16.5" font-weight="normal" textLength="10.3" lengthAdjust="spacingAndGlyphs" stroke="#131722" stroke-width="0.35">H</text>
<text x="420.8" y="67.6" fill="#f23645" font-size="16.5" font-weight="normal" textLength="75.2" lengthAdjust="spacingAndGlyphs" stroke="#f23645" stroke-width="0.35">73,249.48</text>
<text x="507.6" y="67.6" fill="#131722" font-size="16.5" font-weight="normal" textLength="8.2" lengthAdjust="spacingAndGlyphs" stroke="#131722" stroke-width="0.35">L</text>
<text x="517" y="67.6" fill="#f23645" font-size="16.5" font-weight="normal" textLength="74.4" lengthAdjust="spacingAndGlyphs" stroke="#f23645" stroke-width="0.35">72,066.13</text>
<text x="603.8" y="67.6" fill="#131722" font-size="16.5" font-weight="normal" textLength="9.2" lengthAdjust="spacingAndGlyphs" stroke="#131722" stroke-width="0.35">C</text>
<text x="614.4" y="67.6" fill="#f23645" font-size="16.5" font-weight="normal" textLength="74.8" lengthAdjust="spacingAndGlyphs" stroke="#f23645" stroke-width="0.35">72,667.85</text>
<text x="701.5" y="67.6" fill="#f23645" font-size="16.5" font-weight="normal" textLength="50.6" lengthAdjust="spacingAndGlyphs" stroke="#f23645" stroke-width="0.35">−84.33</text>
<text x="759.6" y="67.6" fill="#f23645" font-size="16.5" font-weight="normal" textLength="64.3" lengthAdjust="spacingAndGlyphs" stroke="#f23645" stroke-width="0.35">(−0.12%)</text>
<text x="26.6" y="92.8" fill="#131722" font-size="16.5" font-weight="normal" textLength="161.3" lengthAdjust="spacingAndGlyphs" stroke="#131722" stroke-width="0.35">SAR (0.02, 0.02, 0.2)</text>
<text x="200.2" y="92.8" fill="#2962ff" font-size="16.5" font-weight="normal" textLength="75.2" lengthAdjust="spacingAndGlyphs" stroke="#2962ff" stroke-width="0.35">62,758.07</text>
<text x="26.6" y="118.1" fill="#131722" font-size="16.5" font-weight="normal" textLength="124.4" lengthAdjust="spacingAndGlyphs" stroke="#131722" stroke-width="0.35">MA Cross (9, 21)</text>
<text x="163.2" y="118.1" fill="#ff6d00" font-size="16.5" font-weight="normal" textLength="75.5" lengthAdjust="spacingAndGlyphs" stroke="#ff6d00" stroke-width="0.35">68,552.30</text>
<text x="250" y="118.1" fill="#43a047" font-size="16.5" font-weight="normal" textLength="74.9" lengthAdjust="spacingAndGlyphs" stroke="#43a047" stroke-width="0.35">67,925.71</text>
<text x="337.6" y="118.1" fill="#2962ff" font-size="16.5" font-weight="normal" textLength="75.8" lengthAdjust="spacingAndGlyphs" stroke="#2962ff" stroke-width="0.35">68,552.30</text>
<clipPath id="c40"><rect x="1921" y="960" width="100" height="33"/></clipPath>
<g clip-path="url(#c40)"><text x="1934.5" y="992.84" fill="#131722" font-size="16.9" font-weight="normal" stroke="#131722" stroke-width="0.35">40,000.00</text></g>
<text x="1934.5" y="942.91" fill="#131722" font-size="16.9" font-weight="normal" textLength="75.4" lengthAdjust="spacingAndGlyphs" stroke="#131722" stroke-width="0.35">45,000.00</text>
<text x="1934.5" y="891.78" fill="#131722" font-size="16.9" font-weight="normal" textLength="75.4" lengthAdjust="spacingAndGlyphs" stroke="#131722" stroke-width="0.35">50,000.00</text>
<text x="1934.5" y="840.65" fill="#131722" font-size="16.9" font-weight="normal" textLength="75.4" lengthAdjust="spacingAndGlyphs" stroke="#131722" stroke-width="0.35">55,000.00</text>
<text x="1934.5" y="789.52" fill="#131722" font-size="16.9" font-weight="normal" textLength="75.4" lengthAdjust="spacingAndGlyphs" stroke="#131722" stroke-width="0.35">60,000.00</text>
<text x="1934.5" y="738.39" fill="#131722" font-size="16.9" font-weight="normal" textLength="75.4" lengthAdjust="spacingAndGlyphs" stroke="#131722" stroke-width="0.35">65,000.00</text>
<text x="1934.5" y="687.26" fill="#131722" font-size="16.9" font-weight="normal" textLength="75.4" lengthAdjust="spacingAndGlyphs" stroke="#131722" stroke-width="0.35">70,000.00</text>
<text x="1934.5" y="636.13" fill="#131722" font-size="16.9" font-weight="normal" textLength="75.4" lengthAdjust="spacingAndGlyphs" stroke="#131722" stroke-width="0.35">75,000.00</text>
<text x="1934.5" y="585" fill="#131722" font-size="16.9" font-weight="normal" textLength="75.4" lengthAdjust="spacingAndGlyphs" stroke="#131722" stroke-width="0.35">80,000.00</text>
<text x="1934.5" y="533.87" fill="#131722" font-size="16.9" font-weight="normal" textLength="75.4" lengthAdjust="spacingAndGlyphs" stroke="#131722" stroke-width="0.35">85,000.00</text>
<text x="1934.5" y="482.74" fill="#131722" font-size="16.9" font-weight="normal" textLength="75.4" lengthAdjust="spacingAndGlyphs" stroke="#131722" stroke-width="0.35">90,000.00</text>
<text x="1934.5" y="431.61" fill="#131722" font-size="16.9" font-weight="normal" textLength="75.4" lengthAdjust="spacingAndGlyphs" stroke="#131722" stroke-width="0.35">95,000.00</text>
<text x="1934.5" y="380.48" fill="#131722" font-size="16.9" font-weight="normal" textLength="84.5" lengthAdjust="spacingAndGlyphs" stroke="#131722" stroke-width="0.35">100,000.00</text>
<text x="1934.5" y="329.35" fill="#131722" font-size="16.9" font-weight="normal" textLength="84.5" lengthAdjust="spacingAndGlyphs" stroke="#131722" stroke-width="0.35">105,000.00</text>
<text x="1934.5" y="278.22" fill="#131722" font-size="16.9" font-weight="normal" textLength="84.5" lengthAdjust="spacingAndGlyphs" stroke="#131722" stroke-width="0.35">110,000.00</text>
<text x="1934.5" y="227.09" fill="#131722" font-size="16.9" font-weight="normal" textLength="84.5" lengthAdjust="spacingAndGlyphs" stroke="#131722" stroke-width="0.35">115,000.00</text>
<text x="1934.5" y="175.96" fill="#131722" font-size="16.9" font-weight="normal" textLength="84.5" lengthAdjust="spacingAndGlyphs" stroke="#131722" stroke-width="0.35">120,000.00</text>
<text x="1934.5" y="124.83" fill="#131722" font-size="16.9" font-weight="normal" textLength="84.5" lengthAdjust="spacingAndGlyphs" stroke="#131722" stroke-width="0.35">125,000.00</text>
<text x="1934.5" y="73.7" fill="#131722" font-size="16.9" font-weight="normal" textLength="84.5" lengthAdjust="spacingAndGlyphs" stroke="#131722" stroke-width="0.35">130,000.00</text>
<path d="M1921 391.52H2014.5Q2017 391.52 2017 394.02V414.02Q2017 416.52 2014.5 416.52H1921z" fill="#000000"/>
<text x="1934.4" y="408.72" fill="#ffffff" font-size="16.9" font-weight="normal" textLength="75.4" lengthAdjust="spacingAndGlyphs" stroke="#ffffff" stroke-width="0.35">97,267.83</text>
<path d="M1921 517.15H2014.5Q2017 517.15 2017 519.65V539.65Q2017 542.15 2014.5 542.15H1921z" fill="#000000"/>
<text x="1934.4" y="534.35" fill="#ffffff" font-size="16.9" font-weight="normal" textLength="75.4" lengthAdjust="spacingAndGlyphs" stroke="#ffffff" stroke-width="0.35">84,982.44</text>
<path d="M1921 579.96H2014.5Q2017 579.96 2017 582.46V602.46Q2017 604.96 2014.5 604.96H1921z" fill="#000000"/>
<text x="1934.4" y="597.16" fill="#ffffff" font-size="16.9" font-weight="normal" textLength="75.4" lengthAdjust="spacingAndGlyphs" stroke="#ffffff" stroke-width="0.35">78,839.75</text>
<path d="M1921 642.7H2014.5Q2017 642.7 2017 645.2V688.7Q2017 688.7 2017 688.7H1921z" fill="#f23645"/>
<text x="1934.4" y="660.7" fill="#ffffff" font-size="16.9" font-weight="normal" textLength="75.4" lengthAdjust="spacingAndGlyphs" stroke="#ffffff" stroke-width="0.35">72,667.85</text>
<text x="1934.4" y="680.7" fill="#ffffff" font-size="16.9" font-weight="normal" textLength="66.5" lengthAdjust="spacingAndGlyphs" stroke="#ffffff" stroke-width="0.35" fill-opacity="0.72" stroke-opacity="0.72">16:39:32</text>
<path d="M1921 688.7H2017Q2017 688.7 2017 688.7V712.2Q2017 712.2 2017 712.2H1921z" fill="#ff6d00"/>
<text x="1934.4" y="705.9" fill="#ffffff" font-size="16.9" font-weight="normal" textLength="75.4" lengthAdjust="spacingAndGlyphs" stroke="#ffffff" stroke-width="0.35">68,552.30</text>
<path d="M1921 712.2H2017Q2017 712.2 2017 712.2V737.3Q2017 737.3 2017 737.3H1921z" fill="#2962ff"/>
<text x="1934.4" y="729.4" fill="#ffffff" font-size="16.9" font-weight="normal" textLength="75.4" lengthAdjust="spacingAndGlyphs" stroke="#ffffff" stroke-width="0.35">68,552.30</text>
<path d="M1921 737.3H2017Q2017 737.3 2017 737.3V761.8Q2017 761.8 2017 761.8H1921z" fill="#43a047"/>
<text x="1934.4" y="754.5" fill="#ffffff" font-size="16.9" font-weight="normal" textLength="75.4" lengthAdjust="spacingAndGlyphs" stroke="#ffffff" stroke-width="0.35">67,925.71</text>
<path d="M1921 761.8H2017Q2017 761.8 2017 761.8V787Q2017 787 2017 787H1921z" fill="#000000"/>
<text x="1934.4" y="779" fill="#ffffff" font-size="16.9" font-weight="normal" textLength="75.4" lengthAdjust="spacingAndGlyphs" stroke="#ffffff" stroke-width="0.35">65,000.00</text>
<path d="M1921 787H2017Q2017 787 2017 787V809.3Q2017 811.8 2014.5 811.8H1921z" fill="#2962ff"/>
<text x="1934.4" y="804.2" fill="#ffffff" font-size="16.9" font-weight="normal" textLength="75.4" lengthAdjust="spacingAndGlyphs" stroke="#ffffff" stroke-width="0.35">62,758.07</text>
<rect x="1847.5" y="642.7" width="72.6" height="25.5" rx="3" fill="#f23645"/>
<rect x="1900" y="642.7" width="20.2" height="25.5" fill="#f23645"/>
<text x="1853.2" y="661.4" fill="#ffffff" font-size="16.9" font-weight="normal" textLength="59.8" lengthAdjust="spacingAndGlyphs" stroke="#ffffff" stroke-width="0.35">BTCUSD</text>
<text x="98.18" y="1020" fill="#131722" font-size="16.9" font-weight="normal" stroke="#131722" stroke-width="0.35" text-anchor="middle">May</text>
<line x1="98.18" y1="988" x2="98.18" y2="993" stroke="#f1f1f1" stroke-width="1"/>
<text x="237.87" y="1020" fill="#131722" font-size="16.9" font-weight="normal" stroke="#131722" stroke-width="0.35" text-anchor="middle">Jun</text>
<line x1="237.87" y1="988" x2="237.87" y2="993" stroke="#f1f1f1" stroke-width="1"/>
<text x="373.06" y="1020" fill="#131722" font-size="16.9" font-weight="normal" stroke="#131722" stroke-width="0.35" text-anchor="middle">Jul</text>
<line x1="373.06" y1="988" x2="373.06" y2="993" stroke="#f1f1f1" stroke-width="1"/>
<text x="512.75" y="1020" fill="#131722" font-size="16.9" font-weight="normal" stroke="#131722" stroke-width="0.35" text-anchor="middle">Aug</text>
<line x1="512.75" y1="988" x2="512.75" y2="993" stroke="#f1f1f1" stroke-width="1"/>
<text x="652.44" y="1020" fill="#131722" font-size="16.9" font-weight="normal" stroke="#131722" stroke-width="0.35" text-anchor="middle">Sep</text>
<line x1="652.44" y1="988" x2="652.44" y2="993" stroke="#f1f1f1" stroke-width="1"/>
<text x="787.63" y="1020" fill="#131722" font-size="16.9" font-weight="normal" stroke="#131722" stroke-width="0.35" text-anchor="middle">Oct</text>
<line x1="787.63" y1="988" x2="787.63" y2="993" stroke="#f1f1f1" stroke-width="1"/>
<text x="927.32" y="1020" fill="#131722" font-size="16.9" font-weight="normal" stroke="#131722" stroke-width="0.35" text-anchor="middle">Nov</text>
<line x1="927.32" y1="988" x2="927.32" y2="993" stroke="#f1f1f1" stroke-width="1"/>
<text x="1062.51" y="1020" fill="#131722" font-size="16.9" font-weight="normal" stroke="#131722" stroke-width="0.35" text-anchor="middle">Dec</text>
<line x1="1062.51" y1="988" x2="1062.51" y2="993" stroke="#f1f1f1" stroke-width="1"/>
<text x="1202.2" y="1020" fill="#131722" font-size="16.9" font-weight="bold" text-anchor="middle">2026</text>
<line x1="1202.2" y1="988" x2="1202.2" y2="993" stroke="#f1f1f1" stroke-width="1"/>
<text x="1341.89" y="1020" fill="#131722" font-size="16.9" font-weight="normal" stroke="#131722" stroke-width="0.35" text-anchor="middle">Feb</text>
<line x1="1341.89" y1="988" x2="1341.89" y2="993" stroke="#f1f1f1" stroke-width="1"/>
<text x="1468.06" y="1020" fill="#131722" font-size="16.9" font-weight="normal" stroke="#131722" stroke-width="0.35" text-anchor="middle">Mar</text>
<line x1="1468.06" y1="988" x2="1468.06" y2="993" stroke="#f1f1f1" stroke-width="1"/>
<text x="1607.76" y="1020" fill="#131722" font-size="16.9" font-weight="normal" stroke="#131722" stroke-width="0.35" text-anchor="middle">Apr</text>
<line x1="1607.76" y1="988" x2="1607.76" y2="993" stroke="#f1f1f1" stroke-width="1"/>
<text x="1742.94" y="1020" fill="#131722" font-size="16.9" font-weight="normal" stroke="#131722" stroke-width="0.35" text-anchor="middle">May</text>
<line x1="1742.94" y1="988" x2="1742.94" y2="993" stroke="#f1f1f1" stroke-width="1"/>
<text x="1882.64" y="1020" fill="#131722" font-size="16.9" font-weight="normal" stroke="#131722" stroke-width="0.35" text-anchor="middle">Jun</text>
<line x1="1882.64" y1="988" x2="1882.64" y2="993" stroke="#f1f1f1" stroke-width="1"/>
<circle cx="1487" cy="973.9" r="15" fill="#ffffff" stroke="#7b4cf0" stroke-width="1.6"/>
<circle cx="1507.8" cy="973.9" r="15" fill="#ffffff" stroke="#f23645" stroke-width="2.2"/><clipPath id="fc1507"><circle cx="1507.8" cy="973.9" r="11.6"/></clipPath><g clip-path="url(#fc1507)"><rect x="1495.8" y="962.3" width="24" height="3.9" fill="#ea4b48"/><rect x="1495.8" y="966.2" width="24" height="3.9" fill="#ffffff"/><rect x="1495.8" y="970.1" width="24" height="3.9" fill="#ea4b48"/><rect x="1495.8" y="974" width="24" height="3.9" fill="#ffffff"/><rect x="1495.8" y="977.9" width="24" height="3.9" fill="#ea4b48"/><rect x="1495.8" y="981.8" width="24" height="3.9" fill="#ffffff"/><rect x="1495.8" y="985.7" width="24" height="3.9" fill="#ea4b48"/><rect x="1495.8" y="962.3" width="13" height="13" fill="#2f7ee0"/><rect x="1498.3" y="964.4" width="1.6" height="1.6" fill="#ffffff"/><rect x="1498.3" y="968" width="1.6" height="1.6" fill="#ffffff"/><rect x="1498.3" y="971.6" width="1.6" height="1.6" fill="#ffffff"/><rect x="1502.2" y="964.4" width="1.6" height="1.6" fill="#ffffff"/><rect x="1502.2" y="968" width="1.6" height="1.6" fill="#ffffff"/><rect x="1502.2" y="971.6" width="1.6" height="1.6" fill="#ffffff"/><rect x="1506.1" y="964.4" width="1.6" height="1.6" fill="#ffffff"/><rect x="1506.1" y="968" width="1.6" height="1.6" fill="#ffffff"/><rect x="1506.1" y="971.6" width="1.6" height="1.6" fill="#ffffff"/></g>
<circle cx="1489.5" cy="973.9" r="15" fill="#ffffff" stroke="#f23645" stroke-width="2.2"/><clipPath id="fc1489"><circle cx="1489.5" cy="973.9" r="11.6"/></clipPath><g clip-path="url(#fc1489)"><rect x="1477.5" y="962.3" width="24" height="3.9" fill="#ea4b48"/><rect x="1477.5" y="966.2" width="24" height="3.9" fill="#ffffff"/><rect x="1477.5" y="970.1" width="24" height="3.9" fill="#ea4b48"/><rect x="1477.5" y="974" width="24" height="3.9" fill="#ffffff"/><rect x="1477.5" y="977.9" width="24" height="3.9" fill="#ea4b48"/><rect x="1477.5" y="981.8" width="24" height="3.9" fill="#ffffff"/><rect x="1477.5" y="985.7" width="24" height="3.9" fill="#ea4b48"/><rect x="1477.5" y="962.3" width="13" height="13" fill="#2f7ee0"/><rect x="1480" y="964.4" width="1.6" height="1.6" fill="#ffffff"/><rect x="1480" y="968" width="1.6" height="1.6" fill="#ffffff"/><rect x="1480" y="971.6" width="1.6" height="1.6" fill="#ffffff"/><rect x="1483.9" y="964.4" width="1.6" height="1.6" fill="#ffffff"/><rect x="1483.9" y="968" width="1.6" height="1.6" fill="#ffffff"/><rect x="1483.9" y="971.6" width="1.6" height="1.6" fill="#ffffff"/><rect x="1487.8" y="964.4" width="1.6" height="1.6" fill="#ffffff"/><rect x="1487.8" y="968" width="1.6" height="1.6" fill="#ffffff"/><rect x="1487.8" y="971.6" width="1.6" height="1.6" fill="#ffffff"/></g>
<path d="M1470.3 972.2 Q1471.6 977.5 1475.9 978.8 Q1471.6 980.1 1470.3 985.6 Q1469 980.1 1464.7 978.8 Q1469 977.5 1470.3 972.2z" fill="#7b5cf5"/>
<path d="M17.3 1065.8H34.6V1087.2H26.1V1073.7H17.3z" fill="#131722"/>
<circle cx="41.9" cy="1069.9" r="4.1" fill="#131722"/>
<path d="M51 1065.8H60.7L52.2 1087.2H42.2z" fill="#131722"/>
<text x="71.3" y="1087.2" fill="#131722" font-size="30" font-weight="bold" textLength="174.8" lengthAdjust="spacingAndGlyphs" stroke="#131722" stroke-width="0.7">TradingView</text>
</svg>
</body></html>
